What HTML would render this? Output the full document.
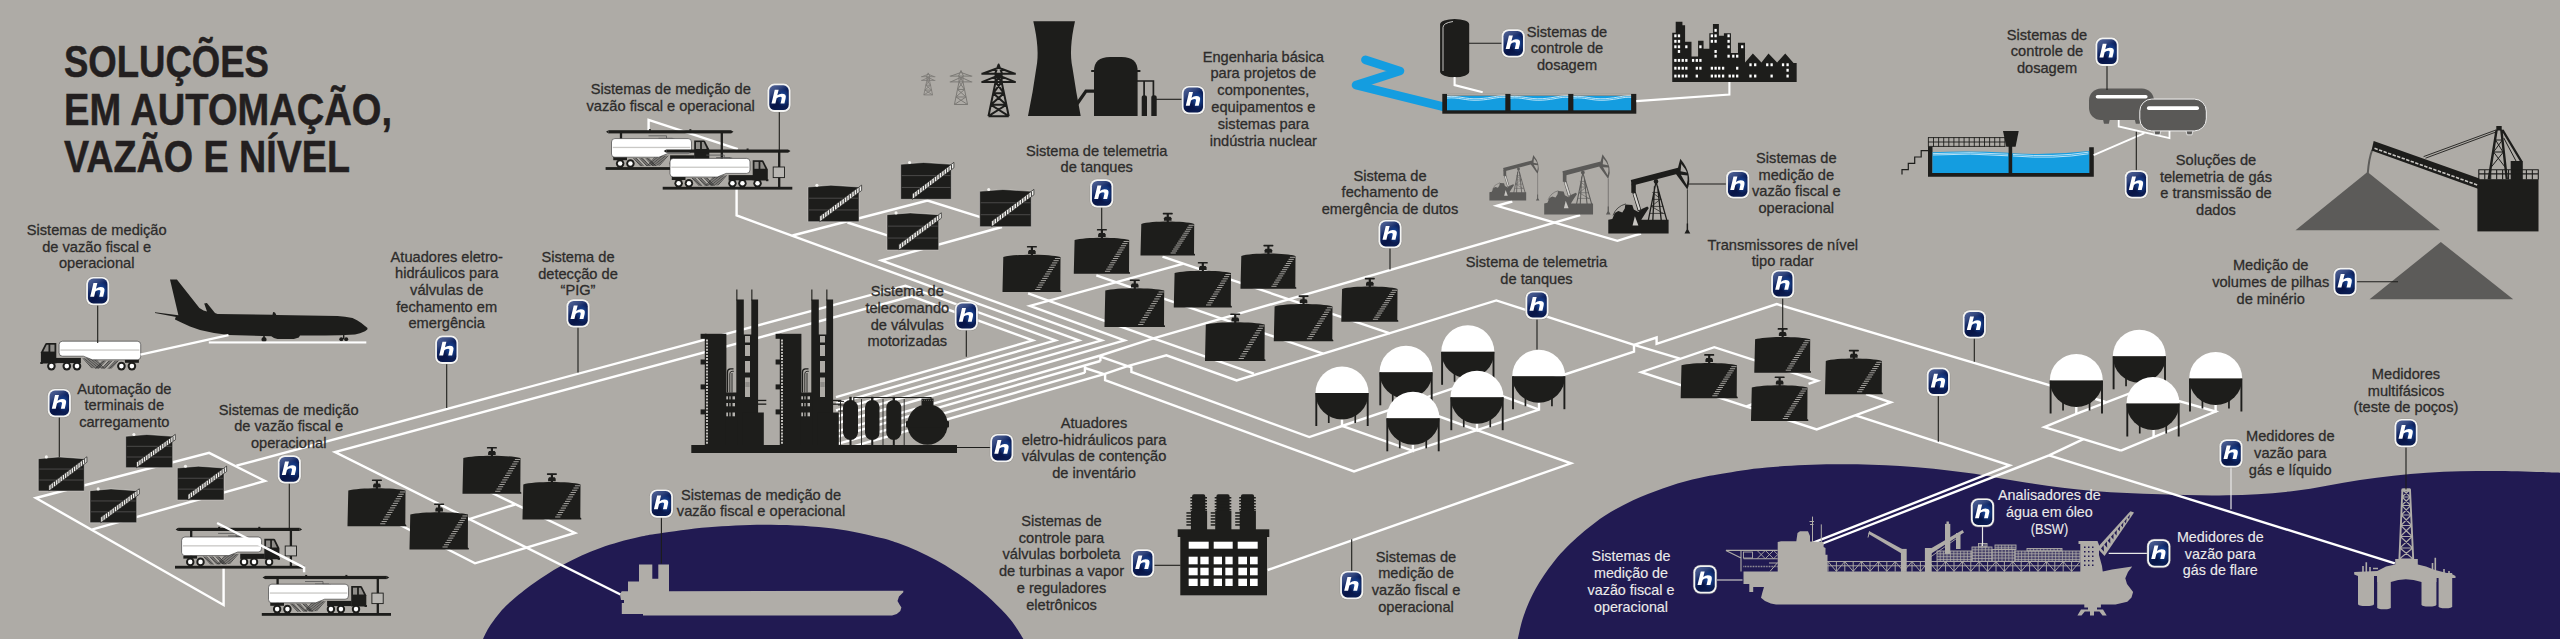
<!DOCTYPE html>
<html><head><meta charset="utf-8"><title>Soluções em automação, vazão e nível</title>
<style>
html,body{margin:0;padding:0;background:#aeaba6;}
body{width:2560px;height:639px;overflow:hidden;}
svg{display:block;font-family:"Liberation Sans",sans-serif;}
</style></head><body>
<svg width="2560" height="639" viewBox="0 0 2560 639">
<defs>
<linearGradient id="hg" x1="0" y1="0" x2="0.55" y2="1">
<stop offset="0" stop-color="#56679a"/><stop offset="0.3" stop-color="#34487f"/><stop offset="0.48" stop-color="#0f2563"/><stop offset="0.75" stop-color="#071446"/><stop offset="1" stop-color="#0a1c52"/>
</linearGradient>
<radialGradient id="hr" cx="0.72" cy="0.5" r="0.36">
<stop offset="0" stop-color="#2368cc" stop-opacity="0.8"/><stop offset="1" stop-color="#2368cc" stop-opacity="0"/>
</radialGradient>
<g id="hi">
<rect x="-0.9" y="-0.6" width="24.3" height="29.4" rx="7.6" fill="#8a8884" opacity="0.5"/>
<rect x="-0.3" y="-0.2" width="23.1" height="28.4" rx="7" fill="#f4f4f2"/>
<rect x="1.5" y="1.5" width="19.5" height="24.8" rx="5.4" fill="url(#hg)"/>
<rect x="1.5" y="1.5" width="19.5" height="24.8" rx="5.4" fill="url(#hr)"/>
<path transform="translate(11 12.8) scale(1.05) translate(-11 -12.8)" d="M4.1 19.3 L7.2 6.3 L10.9 6.3 L9.6 11.6 Q11.5 10 13.9 10 Q18.6 10 17.6 14.2 L16.4 19.3 L12.7 19.3 L13.8 14.6 Q14.3 12.9 12.6 12.9 Q10.2 12.9 9 14.4 L7.8 19.3 Z" fill="#ffffff"/>
</g>
</defs>
<rect x="0" y="0" width="2560" height="639" fill="#aeaba6"/>
<path d="M483 639 C483.93 637.17 486.12 632 488.6 628 C491.08 624 494.8 618.88 497.9 615 C501 611.12 502.53 609.05 507.2 604.7 C511.87 600.35 519.68 593.7 525.9 588.9 C532.12 584.1 538.3 579.93 544.5 575.9 C550.7 571.87 556.9 568.12 563.1 564.7 C569.3 561.28 575.48 558.2 581.7 555.4 C587.92 552.6 594.18 550.13 600.4 547.9 C606.62 545.67 612.4 543.85 619 542 C625.6 540.15 633.33 538.22 640 536.8 C646.67 535.38 647.53 535.08 659 533.5 C670.47 531.92 690.13 528.75 708.8 527.3 C727.47 525.85 750.27 524.6 771 524.8 C791.73 525 815.03 526.35 833.2 528.5 C851.37 530.65 869.1 535.23 880 537.7 C890.9 540.17 892.4 541.13 898.6 543.3 C904.8 545.47 910.98 547.92 917.2 550.7 C923.42 553.48 929.68 556.58 935.9 560 C942.12 563.42 948.3 567.17 954.5 571.2 C960.7 575.23 966.9 579.38 973.1 584.2 C979.3 589.02 985.48 594.2 991.7 600.1 C997.92 606 1005.12 613.12 1010.4 619.6 C1015.68 626.08 1021.23 635.77 1023.4 639  L1023.4 640 L483 640 Z" fill="#211a52"/>
<path d="M1517.8 639 C1518.78 635.12 1520.75 624.03 1523.7 615.7 C1526.65 607.37 1530.57 597.88 1535.5 589 C1540.43 580.12 1546.88 570.53 1553.3 562.4 C1559.72 554.27 1565.62 547.83 1574 540.2 C1582.38 532.57 1593.75 523.25 1603.6 516.6 C1613.45 509.95 1623.25 504.98 1633.1 500.3 C1642.95 495.62 1652.83 491.95 1662.7 488.5 C1672.57 485.05 1682.43 482.07 1692.3 479.6 C1702.17 477.13 1709.5 475.73 1721.9 473.7 C1734.3 471.67 1748.13 468.97 1766.7 467.4 C1785.27 465.83 1811.08 464.53 1833.3 464.3 C1855.52 464.07 1877.77 464.6 1900 466 C1922.23 467.4 1945.53 469.92 1966.7 472.7 C1987.87 475.48 2005.83 479.65 2027 482.7 C2048.17 485.75 2071.53 489.07 2093.7 491 C2115.87 492.93 2137.78 493.58 2160 494.3 C2182.22 495.02 2204.72 495.85 2227 495.3 C2249.28 494.75 2271.53 493.55 2293.7 491 C2315.87 488.45 2337.78 483.05 2360 480 C2382.22 476.95 2404.72 474.2 2427 472.7 C2449.28 471.2 2471.53 471 2493.7 471 C2515.87 471 2548.95 472.42 2560 472.7  L2561 640 L1516 640 Z" fill="#211a52"/>
<text x="64" y="77.2" font-size="44.6" font-weight="bold" fill="#231f20" stroke="#231f20" stroke-width="0.5" textLength="205" lengthAdjust="spacingAndGlyphs">SOLUÇÕES</text>
<text x="64" y="124.6" font-size="44.6" font-weight="bold" fill="#231f20" stroke="#231f20" stroke-width="0.5" textLength="328" lengthAdjust="spacingAndGlyphs">EM AUTOMAÇÃO,</text>
<text x="64" y="172.2" font-size="44.6" font-weight="bold" fill="#231f20" stroke="#231f20" stroke-width="0.5" textLength="286" lengthAdjust="spacingAndGlyphs">VAZÃO E NÍVEL</text>
<polyline points="223.6,567.7 223.6,605 35.8,498 209.1,452.9 265,481 91.7,529.6" fill="none" stroke="#ffffff" stroke-width="2.4" stroke-linejoin="miter"/>
<polyline points="236.4,465.7 905.4,285.7 1055.5,340.4 836,403.62" fill="none" stroke="#ffffff" stroke-width="2.4" stroke-linejoin="miter"/>
<polyline points="620.5,594.5 335,452.1 911.7,296.3 1032.8,340.4 836,397.08" fill="none" stroke="#ffffff" stroke-width="2.4" stroke-linejoin="miter"/>
<polyline points="385,517.3 402.5,526.3 475,563.3 575,533 490,492" fill="none" stroke="#ffffff" stroke-width="2.4" stroke-linejoin="miter"/>
<polyline points="452,524.5 470,518.8 515,504.5" fill="none" stroke="#ffffff" stroke-width="2.4" stroke-linejoin="miter"/>
<polyline points="648.6,131 648.6,119.9 737.8,149.1" fill="none" stroke="#ffffff" stroke-width="2.4" stroke-linejoin="miter"/>
<polyline points="736.6,188 736.6,215.5 1078.9,340.4 836,410.36" fill="none" stroke="#ffffff" stroke-width="2.4" stroke-linejoin="miter"/>
<polyline points="792.5,235.5 927.5,200.5 982,217.6" fill="none" stroke="#ffffff" stroke-width="2.4" stroke-linejoin="miter"/>
<polyline points="847.5,222.5 888,235.6" fill="none" stroke="#ffffff" stroke-width="2.4" stroke-linejoin="miter"/>
<polyline points="1002,227 881.3,260.5 1101.7,340.4 836,416.92" fill="none" stroke="#ffffff" stroke-width="2.4" stroke-linejoin="miter"/>
<polyline points="1182.8,263.8 1030,305.8 1124.5,340.4 836,423.49" fill="none" stroke="#ffffff" stroke-width="2.4" stroke-linejoin="miter"/>
<polyline points="1028.1,293.3 1153.4,338.3 1253.9,373.7" fill="none" stroke="#ffffff" stroke-width="2.4" stroke-linejoin="miter"/>
<polyline points="1096.3,275.4 1323.1,353.6" fill="none" stroke="#ffffff" stroke-width="2.4" stroke-linejoin="miter"/>
<polyline points="1162.5,256.7 1390,333.3" fill="none" stroke="#ffffff" stroke-width="2.4" stroke-linejoin="miter"/>
<polyline points="1580.2,215.2 1153.4,338.3 1100.4,355.5 836,431.65" fill="none" stroke="#ffffff" stroke-width="2.4" stroke-linejoin="miter"/>
<polyline points="1100.4,355.2 1100.4,361.2" fill="none" stroke="#ffffff" stroke-width="2.4" stroke-linejoin="miter"/>
<polyline points="1100.4,361 836,437.15" fill="none" stroke="#ffffff" stroke-width="2.4" stroke-linejoin="miter"/>
<polyline points="1084.9,366.2 1084.9,372.9" fill="none" stroke="#ffffff" stroke-width="2.4" stroke-linejoin="miter"/>
<polyline points="1084.9,372.7 836,444.38" fill="none" stroke="#ffffff" stroke-width="2.4" stroke-linejoin="miter"/>
<polyline points="836,451.31 1104.1,374.1 1127.6,366.2 1166.4,355.3 1236.6,380.4 1496.3,300.4 1634,344.8 1680,358.6" fill="none" stroke="#ffffff" stroke-width="2.4" stroke-linejoin="miter"/>
<polyline points="1100.4,356.7 1127.6,366.2 1131.4,367.4 1131.4,371.8 1309.3,437.1 1342,426 1406,404.3 1467.8,383.4" fill="none" stroke="#ffffff" stroke-width="2.4" stroke-linejoin="miter"/>
<polyline points="1084.9,368 1104.1,374.1 1105.1,374.4 1105.1,380.2 1354,471.5 1412.9,450.9 1477,430.2 1539,409.6 1539,402" fill="none" stroke="#ffffff" stroke-width="2.4" stroke-linejoin="miter"/>
<polyline points="1342,419 1342,426 1412.9,450.9 1412.9,444" fill="none" stroke="#ffffff" stroke-width="2.4" stroke-linejoin="miter"/>
<polyline points="1406,398 1406,404.3 1477,430.2 1477,423" fill="none" stroke="#ffffff" stroke-width="2.4" stroke-linejoin="miter"/>
<polyline points="1467.8,377.5 1467.8,383.4 1539,409.6" fill="none" stroke="#ffffff" stroke-width="2.4" stroke-linejoin="miter"/>
<polyline points="1477,430.2 1571,463.3 1267.7,570" fill="none" stroke="#ffffff" stroke-width="2.4" stroke-linejoin="miter"/>
<polyline points="1512.3,201.5 1496.9,205.8 1617.4,240.8 1641,233.5" fill="none" stroke="#ffffff" stroke-width="2.4" stroke-linejoin="miter"/>
<polyline points="1634,344.5 1634,351.6 1545,381" fill="none" stroke="#ffffff" stroke-width="2.4" stroke-linejoin="miter"/>
<polyline points="1634,344.8 1656.6,337.5 1656.6,343.8 1776.7,304 2105.5,402" fill="none" stroke="#ffffff" stroke-width="2.4" stroke-linejoin="miter"/>
<polyline points="1808.5,383.9 1817.6,380.8 1714.3,347.2 1641.2,372.2 1816.7,429.5 1890.8,402.3 1866,394.2" fill="none" stroke="#ffffff" stroke-width="2.4" stroke-linejoin="miter"/>
<polyline points="1746.5,406.3 1753,404" fill="none" stroke="#ffffff" stroke-width="2.4" stroke-linejoin="miter"/>
<polyline points="1855.5,415.4 2009.7,465.4 1813.3,542.7" fill="none" stroke="#ffffff" stroke-width="2.4" stroke-linejoin="miter"/>
<polyline points="2120.9,450.6 2044.3,427.1 2076.3,413.8 2139.3,389.7 2215.6,411.5 2120.9,450.6" fill="none" stroke="#ffffff" stroke-width="2.4" stroke-linejoin="miter"/>
<polyline points="2076.3,406.5 2076.3,414" fill="none" stroke="#ffffff" stroke-width="2.4" stroke-linejoin="miter"/>
<polyline points="2139.3,382 2139.3,390" fill="none" stroke="#ffffff" stroke-width="2.4" stroke-linejoin="miter"/>
<polyline points="2215.6,404.5 2215.6,412.5" fill="none" stroke="#ffffff" stroke-width="2.4" stroke-linejoin="miter"/>
<polyline points="2153.6,429.5 2153.6,437" fill="none" stroke="#ffffff" stroke-width="2.4" stroke-linejoin="miter"/>
<polyline points="2083.4,439.2 2049,455.3 1815,546.5" fill="none" stroke="#ffffff" stroke-width="2.4" stroke-linejoin="miter"/>
<polyline points="2049,455.3 2394.8,563.3" fill="none" stroke="#ffffff" stroke-width="2.4" stroke-linejoin="miter"/>
<g>
<path d="M125.7 436.3 L146.85 434.5 L172.7 436.3 L172.7 467.7 L125.7 467.7 Z" fill="#1d1d1b" stroke="#d8d6d2" stroke-width="0.5"/>
<line x1="126.7" y1="446.32" x2="171.7" y2="446.32" stroke="#5e5d5b" stroke-width="0.7"/>
<line x1="126.7" y1="457.01" x2="171.7" y2="457.01" stroke="#5e5d5b" stroke-width="0.7"/>
<polygon points="136.51,462.3 175.3,434.4 175.3,439.8 136.51,467.7" fill="#f2f1ee" stroke="#1d1d1b" stroke-width="0.7"/>
<path d="M138.79 461.16 V465.56 M141.07 459.52 V463.92 M143.36 457.88 V462.28 M145.64 456.24 V460.64 M147.92 454.59 V458.99 M150.2 452.95 V457.35 M152.48 451.31 V455.71 M154.76 449.67 V454.07 M157.05 448.03 V452.43 M159.33 446.39 V450.79 M161.61 444.75 V449.15 M163.89 443.11 V447.51 M166.17 441.46 V445.86 M168.45 439.82 V444.22 M170.74 438.18 V442.58 M173.02 436.54 V440.94" stroke="#1d1d1b" stroke-width="0.85" fill="none"/>
<circle cx="133.93" cy="434.5" r="1.55" fill="#f6f5f2"/>
</g>
<g>
<path d="M38.3 458.7 L59 456.9 L84.3 458.7 L84.3 491 L38.3 491 Z" fill="#1d1d1b" stroke="#d8d6d2" stroke-width="0.5"/>
<line x1="39.3" y1="469.05" x2="83.3" y2="469.05" stroke="#5e5d5b" stroke-width="0.7"/>
<line x1="39.3" y1="480.02" x2="83.3" y2="480.02" stroke="#5e5d5b" stroke-width="0.7"/>
<polygon points="48.88,485.6 86.9,456.8 86.9,462.2 48.88,491" fill="#f2f1ee" stroke="#1d1d1b" stroke-width="0.7"/>
<path d="M51.12 484.41 V488.81 M53.35 482.71 V487.11 M55.59 481.02 V485.42 M57.83 479.32 V483.72 M60.06 477.63 V482.03 M62.3 475.94 V480.34 M64.54 474.24 V478.64 M66.77 472.55 V476.95 M69.01 470.85 V475.25 M71.24 469.16 V473.56 M73.48 467.46 V471.86 M75.72 465.77 V470.17 M77.95 464.08 V468.48 M80.19 462.38 V466.78 M82.43 460.69 V465.09 M84.66 458.99 V463.39" stroke="#1d1d1b" stroke-width="0.85" fill="none"/>
<circle cx="46.35" cy="456.9" r="1.55" fill="#f6f5f2"/>
</g>
<g>
<path d="M177.3 468 L198.31 466.2 L224 468 L224 500 L177.3 500 Z" fill="#1d1d1b" stroke="#d8d6d2" stroke-width="0.5"/>
<line x1="178.3" y1="478.24" x2="223" y2="478.24" stroke="#5e5d5b" stroke-width="0.7"/>
<line x1="178.3" y1="489.12" x2="223" y2="489.12" stroke="#5e5d5b" stroke-width="0.7"/>
<polygon points="188.04,494.6 226.6,466.1 226.6,471.5 188.04,500" fill="#f2f1ee" stroke="#1d1d1b" stroke-width="0.7"/>
<path d="M190.31 493.42 V497.82 M192.58 491.75 V496.15 M194.85 490.07 V494.47 M197.11 488.39 V492.79 M199.38 486.72 V491.12 M201.65 485.04 V489.44 M203.92 483.36 V487.76 M206.19 481.69 V486.09 M208.45 480.01 V484.41 M210.72 478.34 V482.74 M212.99 476.66 V481.06 M215.26 474.98 V479.38 M217.53 473.31 V477.71 M219.8 471.63 V476.03 M222.06 469.95 V474.35 M224.33 468.28 V472.68" stroke="#1d1d1b" stroke-width="0.85" fill="none"/>
<circle cx="185.47" cy="466.2" r="1.55" fill="#f6f5f2"/>
</g>
<g>
<path d="M90 490.7 L111.02 488.9 L136.7 490.7 L136.7 522.7 L90 522.7 Z" fill="#1d1d1b" stroke="#d8d6d2" stroke-width="0.5"/>
<line x1="91" y1="500.94" x2="135.7" y2="500.94" stroke="#5e5d5b" stroke-width="0.7"/>
<line x1="91" y1="511.82" x2="135.7" y2="511.82" stroke="#5e5d5b" stroke-width="0.7"/>
<polygon points="100.74,517.3 139.3,488.8 139.3,494.2 100.74,522.7" fill="#f2f1ee" stroke="#1d1d1b" stroke-width="0.7"/>
<path d="M103.01 516.12 V520.52 M105.28 514.45 V518.85 M107.55 512.77 V517.17 M109.81 511.09 V515.49 M112.08 509.42 V513.82 M114.35 507.74 V512.14 M116.62 506.06 V510.46 M118.89 504.39 V508.79 M121.15 502.71 V507.11 M123.42 501.04 V505.44 M125.69 499.36 V503.76 M127.96 497.68 V502.08 M130.23 496.01 V500.41 M132.5 494.33 V498.73 M134.76 492.65 V497.05 M137.03 490.98 V495.38" stroke="#1d1d1b" stroke-width="0.85" fill="none"/>
<circle cx="98.17" cy="488.9" r="1.55" fill="#f6f5f2"/>
</g>
<g>
<path d="M900.7 164.3 L923.47 162.5 L951.3 164.3 L951.3 199.3 L900.7 199.3 Z" fill="#1d1d1b" stroke="#d8d6d2" stroke-width="0.5"/>
<line x1="901.7" y1="175.62" x2="950.3" y2="175.62" stroke="#5e5d5b" stroke-width="0.7"/>
<line x1="901.7" y1="187.46" x2="950.3" y2="187.46" stroke="#5e5d5b" stroke-width="0.7"/>
<polygon points="912.34,193.9 953.9,162.4 953.9,167.8 912.34,199.3" fill="#f2f1ee" stroke="#1d1d1b" stroke-width="0.7"/>
<path d="M914.78 192.55 V196.95 M917.23 190.69 V195.09 M919.67 188.84 V193.24 M922.12 186.99 V191.39 M924.56 185.14 V189.54 M927.01 183.28 V187.68 M929.45 181.43 V185.83 M931.9 179.58 V183.98 M934.34 177.72 V182.12 M936.79 175.87 V180.27 M939.23 174.02 V178.42 M941.68 172.16 V176.56 M944.12 170.31 V174.71 M946.57 168.46 V172.86 M949.01 166.61 V171.01 M951.46 164.75 V169.15" stroke="#1d1d1b" stroke-width="0.85" fill="none"/>
<circle cx="909.56" cy="162.5" r="1.55" fill="#f6f5f2"/>
</g>
<g>
<path d="M808 187 L830.95 185.2 L859 187 L859 221.7 L808 221.7 Z" fill="#1d1d1b" stroke="#d8d6d2" stroke-width="0.5"/>
<line x1="809" y1="198.21" x2="858" y2="198.21" stroke="#5e5d5b" stroke-width="0.7"/>
<line x1="809" y1="209.96" x2="858" y2="209.96" stroke="#5e5d5b" stroke-width="0.7"/>
<polygon points="819.73,216.3 861.6,185.1 861.6,190.5 819.73,221.7" fill="#f2f1ee" stroke="#1d1d1b" stroke-width="0.7"/>
<path d="M822.19 214.96 V219.36 M824.66 213.13 V217.53 M827.12 211.29 V215.69 M829.58 209.46 V213.86 M832.04 207.62 V212.02 M834.51 205.79 V210.19 M836.97 203.95 V208.35 M839.43 202.12 V206.52 M841.9 200.28 V204.68 M844.36 198.45 V202.85 M846.82 196.61 V201.01 M849.29 194.78 V199.18 M851.75 192.94 V197.34 M854.21 191.11 V195.51 M856.67 189.27 V193.67 M859.14 187.44 V191.84" stroke="#1d1d1b" stroke-width="0.85" fill="none"/>
<circle cx="816.92" cy="185.2" r="1.55" fill="#f6f5f2"/>
</g>
<g>
<path d="M979.7 191.3 L1002.92 189.5 L1031.3 191.3 L1031.3 226.7 L979.7 226.7 Z" fill="#1d1d1b" stroke="#d8d6d2" stroke-width="0.5"/>
<line x1="980.7" y1="202.76" x2="1030.3" y2="202.76" stroke="#5e5d5b" stroke-width="0.7"/>
<line x1="980.7" y1="214.73" x2="1030.3" y2="214.73" stroke="#5e5d5b" stroke-width="0.7"/>
<polygon points="991.57,221.3 1033.9,189.4 1033.9,194.8 991.57,226.7" fill="#f2f1ee" stroke="#1d1d1b" stroke-width="0.7"/>
<path d="M994.06 219.92 V224.32 M996.55 218.05 V222.45 M999.04 216.17 V220.57 M1001.53 214.29 V218.69 M1004.02 212.42 V216.82 M1006.51 210.54 V214.94 M1009 208.66 V213.06 M1011.49 206.79 V211.19 M1013.98 204.91 V209.31 M1016.47 203.04 V207.44 M1018.96 201.16 V205.56 M1021.45 199.28 V203.68 M1023.94 197.41 V201.81 M1026.43 195.53 V199.93 M1028.92 193.65 V198.05 M1031.41 191.78 V196.18" stroke="#1d1d1b" stroke-width="0.85" fill="none"/>
<circle cx="988.73" cy="189.5" r="1.55" fill="#f6f5f2"/>
</g>
<g>
<path d="M887 214.7 L910.26 212.9 L938.7 214.7 L938.7 250 L887 250 Z" fill="#1d1d1b" stroke="#d8d6d2" stroke-width="0.5"/>
<line x1="888" y1="226.13" x2="937.7" y2="226.13" stroke="#5e5d5b" stroke-width="0.7"/>
<line x1="888" y1="238.06" x2="937.7" y2="238.06" stroke="#5e5d5b" stroke-width="0.7"/>
<polygon points="898.89,244.6 941.3,212.8 941.3,218.2 898.89,250" fill="#f2f1ee" stroke="#1d1d1b" stroke-width="0.7"/>
<path d="M901.39 243.23 V247.63 M903.88 241.36 V245.76 M906.37 239.49 V243.89 M908.87 237.62 V242.02 M911.36 235.75 V240.15 M913.86 233.88 V238.28 M916.35 232.01 V236.41 M918.85 230.14 V234.54 M921.34 228.26 V232.66 M923.84 226.39 V230.79 M926.33 224.52 V228.92 M928.83 222.65 V227.05 M931.32 220.78 V225.18 M933.82 218.91 V223.31 M936.31 217.04 V221.44 M938.81 215.17 V219.57" stroke="#1d1d1b" stroke-width="0.85" fill="none"/>
<circle cx="896.05" cy="212.9" r="1.55" fill="#f6f5f2"/>
</g>
<g>
<path d="M463.3 458.1 C474.26 454.9 509.54 454.9 520.5 458.1 L520.3 491.8 L521.3 492.6 L521.3 493.8 L462.5 493.8 L462.5 492.6 Z" fill="#1d1d1b"/>
<rect x="490.8" y="447.5" width="2.2" height="9" fill="#1d1d1b"/>
<path d="M489.1 450.9 h5.6 l1 1.6 v2.4 h-7.6 v-2.4 Z" fill="#1d1d1b"/>
<rect x="486.9" y="446.9" width="10" height="1.7" rx="0.6" fill="#1d1d1b"/>
<rect x="514.9" y="459" width="5.2" height="0.95" fill="#a9a7a3"/>
<rect x="513.49" y="461.27" width="5.2" height="0.95" fill="#a9a7a3"/>
<rect x="512.08" y="463.54" width="5.2" height="0.95" fill="#a9a7a3"/>
<rect x="510.67" y="465.81" width="5.2" height="0.95" fill="#a9a7a3"/>
<rect x="509.27" y="468.09" width="5.2" height="0.95" fill="#a9a7a3"/>
<rect x="507.86" y="470.36" width="5.2" height="0.95" fill="#a9a7a3"/>
<rect x="506.45" y="472.63" width="5.2" height="0.95" fill="#a9a7a3"/>
<rect x="505.04" y="474.9" width="5.2" height="0.95" fill="#a9a7a3"/>
<rect x="503.63" y="477.17" width="5.2" height="0.95" fill="#a9a7a3"/>
<rect x="502.22" y="479.44" width="5.2" height="0.95" fill="#a9a7a3"/>
<rect x="500.81" y="481.71" width="5.2" height="0.95" fill="#a9a7a3"/>
<rect x="499.41" y="483.99" width="5.2" height="0.95" fill="#a9a7a3"/>
<rect x="498" y="486.26" width="5.2" height="0.95" fill="#a9a7a3"/>
<rect x="496.59" y="488.53" width="5.2" height="0.95" fill="#a9a7a3"/>
<rect x="495.18" y="490.8" width="5.2" height="0.95" fill="#a9a7a3"/>
</g>
<g>
<path d="M348.3 490.6 C359.26 487.4 394.54 487.4 405.5 490.6 L405.3 524.3 L406.3 525.1 L406.3 526.3 L347.5 526.3 L347.5 525.1 Z" fill="#1d1d1b"/>
<rect x="375.8" y="480" width="2.2" height="9" fill="#1d1d1b"/>
<path d="M374.1 483.4 h5.6 l1 1.6 v2.4 h-7.6 v-2.4 Z" fill="#1d1d1b"/>
<rect x="371.9" y="479.4" width="10" height="1.7" rx="0.6" fill="#1d1d1b"/>
<rect x="399.9" y="491.5" width="5.2" height="0.95" fill="#a9a7a3"/>
<rect x="398.49" y="493.77" width="5.2" height="0.95" fill="#a9a7a3"/>
<rect x="397.08" y="496.04" width="5.2" height="0.95" fill="#a9a7a3"/>
<rect x="395.67" y="498.31" width="5.2" height="0.95" fill="#a9a7a3"/>
<rect x="394.27" y="500.59" width="5.2" height="0.95" fill="#a9a7a3"/>
<rect x="392.86" y="502.86" width="5.2" height="0.95" fill="#a9a7a3"/>
<rect x="391.45" y="505.13" width="5.2" height="0.95" fill="#a9a7a3"/>
<rect x="390.04" y="507.4" width="5.2" height="0.95" fill="#a9a7a3"/>
<rect x="388.63" y="509.67" width="5.2" height="0.95" fill="#a9a7a3"/>
<rect x="387.22" y="511.94" width="5.2" height="0.95" fill="#a9a7a3"/>
<rect x="385.81" y="514.21" width="5.2" height="0.95" fill="#a9a7a3"/>
<rect x="384.41" y="516.49" width="5.2" height="0.95" fill="#a9a7a3"/>
<rect x="383" y="518.76" width="5.2" height="0.95" fill="#a9a7a3"/>
<rect x="381.59" y="521.03" width="5.2" height="0.95" fill="#a9a7a3"/>
<rect x="380.18" y="523.3" width="5.2" height="0.95" fill="#a9a7a3"/>
</g>
<g>
<path d="M523.3 484.4 C534.26 481.2 569.54 481.2 580.5 484.4 L580.3 517.5 L581.3 518.3 L581.3 519.5 L522.5 519.5 L522.5 518.3 Z" fill="#1d1d1b"/>
<rect x="550.8" y="473.8" width="2.2" height="9" fill="#1d1d1b"/>
<path d="M549.1 477.2 h5.6 l1 1.6 v2.4 h-7.6 v-2.4 Z" fill="#1d1d1b"/>
<rect x="546.9" y="473.2" width="10" height="1.7" rx="0.6" fill="#1d1d1b"/>
<rect x="574.9" y="485.3" width="5.2" height="0.95" fill="#a9a7a3"/>
<rect x="573.49" y="487.53" width="5.2" height="0.95" fill="#a9a7a3"/>
<rect x="572.08" y="489.76" width="5.2" height="0.95" fill="#a9a7a3"/>
<rect x="570.67" y="491.99" width="5.2" height="0.95" fill="#a9a7a3"/>
<rect x="569.27" y="494.21" width="5.2" height="0.95" fill="#a9a7a3"/>
<rect x="567.86" y="496.44" width="5.2" height="0.95" fill="#a9a7a3"/>
<rect x="566.45" y="498.67" width="5.2" height="0.95" fill="#a9a7a3"/>
<rect x="565.04" y="500.9" width="5.2" height="0.95" fill="#a9a7a3"/>
<rect x="563.63" y="503.13" width="5.2" height="0.95" fill="#a9a7a3"/>
<rect x="562.22" y="505.36" width="5.2" height="0.95" fill="#a9a7a3"/>
<rect x="560.81" y="507.59" width="5.2" height="0.95" fill="#a9a7a3"/>
<rect x="559.41" y="509.81" width="5.2" height="0.95" fill="#a9a7a3"/>
<rect x="558" y="512.04" width="5.2" height="0.95" fill="#a9a7a3"/>
<rect x="556.59" y="514.27" width="5.2" height="0.95" fill="#a9a7a3"/>
<rect x="555.18" y="516.5" width="5.2" height="0.95" fill="#a9a7a3"/>
</g>
<g>
<path d="M410.3 514.6 C421.36 511.4 456.94 511.4 468 514.6 L467.8 547.5 L468.8 548.3 L468.8 549.5 L409.5 549.5 L409.5 548.3 Z" fill="#1d1d1b"/>
<rect x="438.05" y="504" width="2.2" height="9" fill="#1d1d1b"/>
<path d="M436.35 507.4 h5.6 l1 1.6 v2.4 h-7.6 v-2.4 Z" fill="#1d1d1b"/>
<rect x="434.15" y="503.4" width="10" height="1.7" rx="0.6" fill="#1d1d1b"/>
<rect x="462.4" y="515.5" width="5.2" height="0.95" fill="#a9a7a3"/>
<rect x="460.98" y="517.71" width="5.2" height="0.95" fill="#a9a7a3"/>
<rect x="459.55" y="519.93" width="5.2" height="0.95" fill="#a9a7a3"/>
<rect x="458.13" y="522.14" width="5.2" height="0.95" fill="#a9a7a3"/>
<rect x="456.71" y="524.36" width="5.2" height="0.95" fill="#a9a7a3"/>
<rect x="455.29" y="526.57" width="5.2" height="0.95" fill="#a9a7a3"/>
<rect x="453.86" y="528.79" width="5.2" height="0.95" fill="#a9a7a3"/>
<rect x="452.44" y="531" width="5.2" height="0.95" fill="#a9a7a3"/>
<rect x="451.02" y="533.21" width="5.2" height="0.95" fill="#a9a7a3"/>
<rect x="449.59" y="535.43" width="5.2" height="0.95" fill="#a9a7a3"/>
<rect x="448.17" y="537.64" width="5.2" height="0.95" fill="#a9a7a3"/>
<rect x="446.75" y="539.86" width="5.2" height="0.95" fill="#a9a7a3"/>
<rect x="445.33" y="542.07" width="5.2" height="0.95" fill="#a9a7a3"/>
<rect x="443.9" y="544.29" width="5.2" height="0.95" fill="#a9a7a3"/>
<rect x="442.48" y="546.5" width="5.2" height="0.95" fill="#a9a7a3"/>
</g>
<g>
<path d="M1141.3 223.9 C1151.4 220.7 1184.1 220.7 1194.2 223.9 L1194 253.5 L1195 254.3 L1195 255.5 L1140.5 255.5 L1140.5 254.3 Z" fill="#1d1d1b"/>
<rect x="1166.65" y="213.3" width="2.2" height="9" fill="#1d1d1b"/>
<path d="M1164.95 216.7 h5.6 l1 1.6 v2.4 h-7.6 v-2.4 Z" fill="#1d1d1b"/>
<rect x="1162.75" y="212.7" width="10" height="1.7" rx="0.6" fill="#1d1d1b"/>
<rect x="1188.6" y="224.8" width="5.2" height="0.95" fill="#a9a7a3"/>
<rect x="1187.31" y="226.78" width="5.2" height="0.95" fill="#a9a7a3"/>
<rect x="1186.03" y="228.76" width="5.2" height="0.95" fill="#a9a7a3"/>
<rect x="1184.74" y="230.74" width="5.2" height="0.95" fill="#a9a7a3"/>
<rect x="1183.46" y="232.71" width="5.2" height="0.95" fill="#a9a7a3"/>
<rect x="1182.17" y="234.69" width="5.2" height="0.95" fill="#a9a7a3"/>
<rect x="1180.89" y="236.67" width="5.2" height="0.95" fill="#a9a7a3"/>
<rect x="1179.6" y="238.65" width="5.2" height="0.95" fill="#a9a7a3"/>
<rect x="1178.31" y="240.63" width="5.2" height="0.95" fill="#a9a7a3"/>
<rect x="1177.03" y="242.61" width="5.2" height="0.95" fill="#a9a7a3"/>
<rect x="1175.74" y="244.59" width="5.2" height="0.95" fill="#a9a7a3"/>
<rect x="1174.46" y="246.56" width="5.2" height="0.95" fill="#a9a7a3"/>
<rect x="1173.17" y="248.54" width="5.2" height="0.95" fill="#a9a7a3"/>
<rect x="1171.89" y="250.52" width="5.2" height="0.95" fill="#a9a7a3"/>
<rect x="1170.6" y="252.5" width="5.2" height="0.95" fill="#a9a7a3"/>
</g>
<g>
<path d="M1074.6 240.1 C1085.04 236.9 1118.76 236.9 1129.2 240.1 L1129 271.8 L1130 272.6 L1130 273.8 L1073.8 273.8 L1073.8 272.6 Z" fill="#1d1d1b"/>
<rect x="1100.8" y="229.5" width="2.2" height="9" fill="#1d1d1b"/>
<path d="M1099.1 232.9 h5.6 l1 1.6 v2.4 h-7.6 v-2.4 Z" fill="#1d1d1b"/>
<rect x="1096.9" y="228.9" width="10" height="1.7" rx="0.6" fill="#1d1d1b"/>
<rect x="1123.6" y="241" width="5.2" height="0.95" fill="#a9a7a3"/>
<rect x="1122.27" y="243.13" width="5.2" height="0.95" fill="#a9a7a3"/>
<rect x="1120.93" y="245.26" width="5.2" height="0.95" fill="#a9a7a3"/>
<rect x="1119.6" y="247.39" width="5.2" height="0.95" fill="#a9a7a3"/>
<rect x="1118.26" y="249.51" width="5.2" height="0.95" fill="#a9a7a3"/>
<rect x="1116.93" y="251.64" width="5.2" height="0.95" fill="#a9a7a3"/>
<rect x="1115.59" y="253.77" width="5.2" height="0.95" fill="#a9a7a3"/>
<rect x="1114.26" y="255.9" width="5.2" height="0.95" fill="#a9a7a3"/>
<rect x="1112.93" y="258.03" width="5.2" height="0.95" fill="#a9a7a3"/>
<rect x="1111.59" y="260.16" width="5.2" height="0.95" fill="#a9a7a3"/>
<rect x="1110.26" y="262.29" width="5.2" height="0.95" fill="#a9a7a3"/>
<rect x="1108.92" y="264.41" width="5.2" height="0.95" fill="#a9a7a3"/>
<rect x="1107.59" y="266.54" width="5.2" height="0.95" fill="#a9a7a3"/>
<rect x="1106.25" y="268.67" width="5.2" height="0.95" fill="#a9a7a3"/>
<rect x="1104.92" y="270.8" width="5.2" height="0.95" fill="#a9a7a3"/>
</g>
<g>
<path d="M1003.3 257.1 C1014.26 253.9 1049.54 253.9 1060.5 257.1 L1060.3 290 L1061.3 290.8 L1061.3 292 L1002.5 292 L1002.5 290.8 Z" fill="#1d1d1b"/>
<rect x="1030.8" y="246.5" width="2.2" height="9" fill="#1d1d1b"/>
<path d="M1029.1 249.9 h5.6 l1 1.6 v2.4 h-7.6 v-2.4 Z" fill="#1d1d1b"/>
<rect x="1026.9" y="245.9" width="10" height="1.7" rx="0.6" fill="#1d1d1b"/>
<rect x="1054.9" y="258" width="5.2" height="0.95" fill="#a9a7a3"/>
<rect x="1053.49" y="260.21" width="5.2" height="0.95" fill="#a9a7a3"/>
<rect x="1052.08" y="262.43" width="5.2" height="0.95" fill="#a9a7a3"/>
<rect x="1050.67" y="264.64" width="5.2" height="0.95" fill="#a9a7a3"/>
<rect x="1049.27" y="266.86" width="5.2" height="0.95" fill="#a9a7a3"/>
<rect x="1047.86" y="269.07" width="5.2" height="0.95" fill="#a9a7a3"/>
<rect x="1046.45" y="271.29" width="5.2" height="0.95" fill="#a9a7a3"/>
<rect x="1045.04" y="273.5" width="5.2" height="0.95" fill="#a9a7a3"/>
<rect x="1043.63" y="275.71" width="5.2" height="0.95" fill="#a9a7a3"/>
<rect x="1042.22" y="277.93" width="5.2" height="0.95" fill="#a9a7a3"/>
<rect x="1040.81" y="280.14" width="5.2" height="0.95" fill="#a9a7a3"/>
<rect x="1039.41" y="282.36" width="5.2" height="0.95" fill="#a9a7a3"/>
<rect x="1038" y="284.57" width="5.2" height="0.95" fill="#a9a7a3"/>
<rect x="1036.59" y="286.79" width="5.2" height="0.95" fill="#a9a7a3"/>
<rect x="1035.18" y="289" width="5.2" height="0.95" fill="#a9a7a3"/>
</g>
<g>
<path d="M1241.3 255.9 C1251.66 252.7 1285.14 252.7 1295.5 255.9 L1295.3 286.8 L1296.3 287.6 L1296.3 288.8 L1240.5 288.8 L1240.5 287.6 Z" fill="#1d1d1b"/>
<rect x="1267.3" y="245.3" width="2.2" height="9" fill="#1d1d1b"/>
<path d="M1265.6 248.7 h5.6 l1 1.6 v2.4 h-7.6 v-2.4 Z" fill="#1d1d1b"/>
<rect x="1263.4" y="244.7" width="10" height="1.7" rx="0.6" fill="#1d1d1b"/>
<rect x="1289.9" y="256.8" width="5.2" height="0.95" fill="#a9a7a3"/>
<rect x="1288.58" y="258.87" width="5.2" height="0.95" fill="#a9a7a3"/>
<rect x="1287.25" y="260.94" width="5.2" height="0.95" fill="#a9a7a3"/>
<rect x="1285.93" y="263.01" width="5.2" height="0.95" fill="#a9a7a3"/>
<rect x="1284.61" y="265.09" width="5.2" height="0.95" fill="#a9a7a3"/>
<rect x="1283.29" y="267.16" width="5.2" height="0.95" fill="#a9a7a3"/>
<rect x="1281.96" y="269.23" width="5.2" height="0.95" fill="#a9a7a3"/>
<rect x="1280.64" y="271.3" width="5.2" height="0.95" fill="#a9a7a3"/>
<rect x="1279.32" y="273.37" width="5.2" height="0.95" fill="#a9a7a3"/>
<rect x="1277.99" y="275.44" width="5.2" height="0.95" fill="#a9a7a3"/>
<rect x="1276.67" y="277.51" width="5.2" height="0.95" fill="#a9a7a3"/>
<rect x="1275.35" y="279.59" width="5.2" height="0.95" fill="#a9a7a3"/>
<rect x="1274.03" y="281.66" width="5.2" height="0.95" fill="#a9a7a3"/>
<rect x="1272.7" y="283.73" width="5.2" height="0.95" fill="#a9a7a3"/>
<rect x="1271.38" y="285.8" width="5.2" height="0.95" fill="#a9a7a3"/>
</g>
<g>
<path d="M1174.6 273.1 C1185.4 269.9 1220.2 269.9 1231 273.1 L1230.8 305.5 L1231.8 306.3 L1231.8 307.5 L1173.8 307.5 L1173.8 306.3 Z" fill="#1d1d1b"/>
<rect x="1201.7" y="262.5" width="2.2" height="9" fill="#1d1d1b"/>
<path d="M1200 265.9 h5.6 l1 1.6 v2.4 h-7.6 v-2.4 Z" fill="#1d1d1b"/>
<rect x="1197.8" y="261.9" width="10" height="1.7" rx="0.6" fill="#1d1d1b"/>
<rect x="1225.4" y="274" width="5.2" height="0.95" fill="#a9a7a3"/>
<rect x="1224.01" y="276.18" width="5.2" height="0.95" fill="#a9a7a3"/>
<rect x="1222.63" y="278.36" width="5.2" height="0.95" fill="#a9a7a3"/>
<rect x="1221.24" y="280.54" width="5.2" height="0.95" fill="#a9a7a3"/>
<rect x="1219.86" y="282.71" width="5.2" height="0.95" fill="#a9a7a3"/>
<rect x="1218.47" y="284.89" width="5.2" height="0.95" fill="#a9a7a3"/>
<rect x="1217.09" y="287.07" width="5.2" height="0.95" fill="#a9a7a3"/>
<rect x="1215.7" y="289.25" width="5.2" height="0.95" fill="#a9a7a3"/>
<rect x="1214.31" y="291.43" width="5.2" height="0.95" fill="#a9a7a3"/>
<rect x="1212.93" y="293.61" width="5.2" height="0.95" fill="#a9a7a3"/>
<rect x="1211.54" y="295.79" width="5.2" height="0.95" fill="#a9a7a3"/>
<rect x="1210.16" y="297.96" width="5.2" height="0.95" fill="#a9a7a3"/>
<rect x="1208.77" y="300.14" width="5.2" height="0.95" fill="#a9a7a3"/>
<rect x="1207.39" y="302.32" width="5.2" height="0.95" fill="#a9a7a3"/>
<rect x="1206" y="304.5" width="5.2" height="0.95" fill="#a9a7a3"/>
</g>
<g>
<path d="M1105.3 290.6 C1116.6 287.4 1152.9 287.4 1164.2 290.6 L1164 325 L1165 325.8 L1165 327 L1104.5 327 L1104.5 325.8 Z" fill="#1d1d1b"/>
<rect x="1133.65" y="280" width="2.2" height="9" fill="#1d1d1b"/>
<path d="M1131.95 283.4 h5.6 l1 1.6 v2.4 h-7.6 v-2.4 Z" fill="#1d1d1b"/>
<rect x="1129.75" y="279.4" width="10" height="1.7" rx="0.6" fill="#1d1d1b"/>
<rect x="1158.6" y="291.5" width="5.2" height="0.95" fill="#a9a7a3"/>
<rect x="1157.14" y="293.82" width="5.2" height="0.95" fill="#a9a7a3"/>
<rect x="1155.69" y="296.14" width="5.2" height="0.95" fill="#a9a7a3"/>
<rect x="1154.23" y="298.46" width="5.2" height="0.95" fill="#a9a7a3"/>
<rect x="1152.77" y="300.79" width="5.2" height="0.95" fill="#a9a7a3"/>
<rect x="1151.31" y="303.11" width="5.2" height="0.95" fill="#a9a7a3"/>
<rect x="1149.86" y="305.43" width="5.2" height="0.95" fill="#a9a7a3"/>
<rect x="1148.4" y="307.75" width="5.2" height="0.95" fill="#a9a7a3"/>
<rect x="1146.94" y="310.07" width="5.2" height="0.95" fill="#a9a7a3"/>
<rect x="1145.49" y="312.39" width="5.2" height="0.95" fill="#a9a7a3"/>
<rect x="1144.03" y="314.71" width="5.2" height="0.95" fill="#a9a7a3"/>
<rect x="1142.57" y="317.04" width="5.2" height="0.95" fill="#a9a7a3"/>
<rect x="1141.11" y="319.36" width="5.2" height="0.95" fill="#a9a7a3"/>
<rect x="1139.66" y="321.68" width="5.2" height="0.95" fill="#a9a7a3"/>
<rect x="1138.2" y="324" width="5.2" height="0.95" fill="#a9a7a3"/>
</g>
<g>
<path d="M1342.1 288.9 C1352.7 285.7 1386.9 285.7 1397.5 288.9 L1397.3 319.8 L1398.3 320.6 L1398.3 321.8 L1341.3 321.8 L1341.3 320.6 Z" fill="#1d1d1b"/>
<rect x="1368.7" y="278.3" width="2.2" height="9" fill="#1d1d1b"/>
<path d="M1367 281.7 h5.6 l1 1.6 v2.4 h-7.6 v-2.4 Z" fill="#1d1d1b"/>
<rect x="1364.8" y="277.7" width="10" height="1.7" rx="0.6" fill="#1d1d1b"/>
<rect x="1391.9" y="289.8" width="5.2" height="0.95" fill="#a9a7a3"/>
<rect x="1390.54" y="291.87" width="5.2" height="0.95" fill="#a9a7a3"/>
<rect x="1389.19" y="293.94" width="5.2" height="0.95" fill="#a9a7a3"/>
<rect x="1387.83" y="296.01" width="5.2" height="0.95" fill="#a9a7a3"/>
<rect x="1386.47" y="298.09" width="5.2" height="0.95" fill="#a9a7a3"/>
<rect x="1385.11" y="300.16" width="5.2" height="0.95" fill="#a9a7a3"/>
<rect x="1383.76" y="302.23" width="5.2" height="0.95" fill="#a9a7a3"/>
<rect x="1382.4" y="304.3" width="5.2" height="0.95" fill="#a9a7a3"/>
<rect x="1381.04" y="306.37" width="5.2" height="0.95" fill="#a9a7a3"/>
<rect x="1379.69" y="308.44" width="5.2" height="0.95" fill="#a9a7a3"/>
<rect x="1378.33" y="310.51" width="5.2" height="0.95" fill="#a9a7a3"/>
<rect x="1376.97" y="312.59" width="5.2" height="0.95" fill="#a9a7a3"/>
<rect x="1375.61" y="314.66" width="5.2" height="0.95" fill="#a9a7a3"/>
<rect x="1374.26" y="316.73" width="5.2" height="0.95" fill="#a9a7a3"/>
<rect x="1372.9" y="318.8" width="5.2" height="0.95" fill="#a9a7a3"/>
</g>
<g>
<path d="M1274.6 306.4 C1285.7 303.2 1321.4 303.2 1332.5 306.4 L1332.3 339.3 L1333.3 340.1 L1333.3 341.3 L1273.8 341.3 L1273.8 340.1 Z" fill="#1d1d1b"/>
<rect x="1302.45" y="295.8" width="2.2" height="9" fill="#1d1d1b"/>
<path d="M1300.75 299.2 h5.6 l1 1.6 v2.4 h-7.6 v-2.4 Z" fill="#1d1d1b"/>
<rect x="1298.55" y="295.2" width="10" height="1.7" rx="0.6" fill="#1d1d1b"/>
<rect x="1326.9" y="307.3" width="5.2" height="0.95" fill="#a9a7a3"/>
<rect x="1325.47" y="309.51" width="5.2" height="0.95" fill="#a9a7a3"/>
<rect x="1324.04" y="311.73" width="5.2" height="0.95" fill="#a9a7a3"/>
<rect x="1322.61" y="313.94" width="5.2" height="0.95" fill="#a9a7a3"/>
<rect x="1321.19" y="316.16" width="5.2" height="0.95" fill="#a9a7a3"/>
<rect x="1319.76" y="318.37" width="5.2" height="0.95" fill="#a9a7a3"/>
<rect x="1318.33" y="320.59" width="5.2" height="0.95" fill="#a9a7a3"/>
<rect x="1316.9" y="322.8" width="5.2" height="0.95" fill="#a9a7a3"/>
<rect x="1315.47" y="325.01" width="5.2" height="0.95" fill="#a9a7a3"/>
<rect x="1314.04" y="327.23" width="5.2" height="0.95" fill="#a9a7a3"/>
<rect x="1312.61" y="329.44" width="5.2" height="0.95" fill="#a9a7a3"/>
<rect x="1311.19" y="331.66" width="5.2" height="0.95" fill="#a9a7a3"/>
<rect x="1309.76" y="333.87" width="5.2" height="0.95" fill="#a9a7a3"/>
<rect x="1308.33" y="336.09" width="5.2" height="0.95" fill="#a9a7a3"/>
<rect x="1306.9" y="338.3" width="5.2" height="0.95" fill="#a9a7a3"/>
</g>
<g>
<path d="M1205.8 324.6 C1217.1 321.4 1253.4 321.4 1264.7 324.6 L1264.5 359 L1265.5 359.8 L1265.5 361 L1205 361 L1205 359.8 Z" fill="#1d1d1b"/>
<rect x="1234.15" y="314" width="2.2" height="9" fill="#1d1d1b"/>
<path d="M1232.45 317.4 h5.6 l1 1.6 v2.4 h-7.6 v-2.4 Z" fill="#1d1d1b"/>
<rect x="1230.25" y="313.4" width="10" height="1.7" rx="0.6" fill="#1d1d1b"/>
<rect x="1259.1" y="325.5" width="5.2" height="0.95" fill="#a9a7a3"/>
<rect x="1257.64" y="327.82" width="5.2" height="0.95" fill="#a9a7a3"/>
<rect x="1256.19" y="330.14" width="5.2" height="0.95" fill="#a9a7a3"/>
<rect x="1254.73" y="332.46" width="5.2" height="0.95" fill="#a9a7a3"/>
<rect x="1253.27" y="334.79" width="5.2" height="0.95" fill="#a9a7a3"/>
<rect x="1251.81" y="337.11" width="5.2" height="0.95" fill="#a9a7a3"/>
<rect x="1250.36" y="339.43" width="5.2" height="0.95" fill="#a9a7a3"/>
<rect x="1248.9" y="341.75" width="5.2" height="0.95" fill="#a9a7a3"/>
<rect x="1247.44" y="344.07" width="5.2" height="0.95" fill="#a9a7a3"/>
<rect x="1245.99" y="346.39" width="5.2" height="0.95" fill="#a9a7a3"/>
<rect x="1244.53" y="348.71" width="5.2" height="0.95" fill="#a9a7a3"/>
<rect x="1243.07" y="351.04" width="5.2" height="0.95" fill="#a9a7a3"/>
<rect x="1241.61" y="353.36" width="5.2" height="0.95" fill="#a9a7a3"/>
<rect x="1240.16" y="355.68" width="5.2" height="0.95" fill="#a9a7a3"/>
<rect x="1238.7" y="358" width="5.2" height="0.95" fill="#a9a7a3"/>
</g>
<g>
<path d="M1755.1 339.3 C1765.64 336.1 1799.66 336.1 1810.2 339.3 L1810 370.7 L1811 371.5 L1811 372.7 L1754.3 372.7 L1754.3 371.5 Z" fill="#1d1d1b"/>
<rect x="1781.55" y="328.7" width="2.2" height="9" fill="#1d1d1b"/>
<path d="M1779.85 332.1 h5.6 l1 1.6 v2.4 h-7.6 v-2.4 Z" fill="#1d1d1b"/>
<rect x="1777.65" y="328.1" width="10" height="1.7" rx="0.6" fill="#1d1d1b"/>
<rect x="1804.6" y="340.2" width="5.2" height="0.95" fill="#a9a7a3"/>
<rect x="1803.25" y="342.31" width="5.2" height="0.95" fill="#a9a7a3"/>
<rect x="1801.9" y="344.41" width="5.2" height="0.95" fill="#a9a7a3"/>
<rect x="1800.55" y="346.52" width="5.2" height="0.95" fill="#a9a7a3"/>
<rect x="1799.21" y="348.63" width="5.2" height="0.95" fill="#a9a7a3"/>
<rect x="1797.86" y="350.74" width="5.2" height="0.95" fill="#a9a7a3"/>
<rect x="1796.51" y="352.84" width="5.2" height="0.95" fill="#a9a7a3"/>
<rect x="1795.16" y="354.95" width="5.2" height="0.95" fill="#a9a7a3"/>
<rect x="1793.81" y="357.06" width="5.2" height="0.95" fill="#a9a7a3"/>
<rect x="1792.46" y="359.16" width="5.2" height="0.95" fill="#a9a7a3"/>
<rect x="1791.11" y="361.27" width="5.2" height="0.95" fill="#a9a7a3"/>
<rect x="1789.77" y="363.38" width="5.2" height="0.95" fill="#a9a7a3"/>
<rect x="1788.42" y="365.49" width="5.2" height="0.95" fill="#a9a7a3"/>
<rect x="1787.07" y="367.59" width="5.2" height="0.95" fill="#a9a7a3"/>
<rect x="1785.72" y="369.7" width="5.2" height="0.95" fill="#a9a7a3"/>
</g>
<g>
<path d="M1681.5 365.3 C1692.1 362.1 1726.3 362.1 1736.9 365.3 L1736.7 396.3 L1737.7 397.1 L1737.7 398.3 L1680.7 398.3 L1680.7 397.1 Z" fill="#1d1d1b"/>
<rect x="1708.1" y="354.7" width="2.2" height="9" fill="#1d1d1b"/>
<path d="M1706.4 358.1 h5.6 l1 1.6 v2.4 h-7.6 v-2.4 Z" fill="#1d1d1b"/>
<rect x="1704.2" y="354.1" width="10" height="1.7" rx="0.6" fill="#1d1d1b"/>
<rect x="1731.3" y="366.2" width="5.2" height="0.95" fill="#a9a7a3"/>
<rect x="1729.94" y="368.28" width="5.2" height="0.95" fill="#a9a7a3"/>
<rect x="1728.59" y="370.36" width="5.2" height="0.95" fill="#a9a7a3"/>
<rect x="1727.23" y="372.44" width="5.2" height="0.95" fill="#a9a7a3"/>
<rect x="1725.87" y="374.51" width="5.2" height="0.95" fill="#a9a7a3"/>
<rect x="1724.51" y="376.59" width="5.2" height="0.95" fill="#a9a7a3"/>
<rect x="1723.16" y="378.67" width="5.2" height="0.95" fill="#a9a7a3"/>
<rect x="1721.8" y="380.75" width="5.2" height="0.95" fill="#a9a7a3"/>
<rect x="1720.44" y="382.83" width="5.2" height="0.95" fill="#a9a7a3"/>
<rect x="1719.09" y="384.91" width="5.2" height="0.95" fill="#a9a7a3"/>
<rect x="1717.73" y="386.99" width="5.2" height="0.95" fill="#a9a7a3"/>
<rect x="1716.37" y="389.06" width="5.2" height="0.95" fill="#a9a7a3"/>
<rect x="1715.01" y="391.14" width="5.2" height="0.95" fill="#a9a7a3"/>
<rect x="1713.66" y="393.22" width="5.2" height="0.95" fill="#a9a7a3"/>
<rect x="1712.3" y="395.3" width="5.2" height="0.95" fill="#a9a7a3"/>
</g>
<g>
<path d="M1825.8 360.9 C1836.54 357.7 1871.16 357.7 1881.9 360.9 L1881.7 392.3 L1882.7 393.1 L1882.7 394.3 L1825 394.3 L1825 393.1 Z" fill="#1d1d1b"/>
<rect x="1852.75" y="350.3" width="2.2" height="9" fill="#1d1d1b"/>
<path d="M1851.05 353.7 h5.6 l1 1.6 v2.4 h-7.6 v-2.4 Z" fill="#1d1d1b"/>
<rect x="1848.85" y="349.7" width="10" height="1.7" rx="0.6" fill="#1d1d1b"/>
<rect x="1876.3" y="361.8" width="5.2" height="0.95" fill="#a9a7a3"/>
<rect x="1874.92" y="363.91" width="5.2" height="0.95" fill="#a9a7a3"/>
<rect x="1873.55" y="366.01" width="5.2" height="0.95" fill="#a9a7a3"/>
<rect x="1872.17" y="368.12" width="5.2" height="0.95" fill="#a9a7a3"/>
<rect x="1870.79" y="370.23" width="5.2" height="0.95" fill="#a9a7a3"/>
<rect x="1869.41" y="372.34" width="5.2" height="0.95" fill="#a9a7a3"/>
<rect x="1868.04" y="374.44" width="5.2" height="0.95" fill="#a9a7a3"/>
<rect x="1866.66" y="376.55" width="5.2" height="0.95" fill="#a9a7a3"/>
<rect x="1865.28" y="378.66" width="5.2" height="0.95" fill="#a9a7a3"/>
<rect x="1863.91" y="380.76" width="5.2" height="0.95" fill="#a9a7a3"/>
<rect x="1862.53" y="382.87" width="5.2" height="0.95" fill="#a9a7a3"/>
<rect x="1861.15" y="384.98" width="5.2" height="0.95" fill="#a9a7a3"/>
<rect x="1859.77" y="387.09" width="5.2" height="0.95" fill="#a9a7a3"/>
<rect x="1858.4" y="389.19" width="5.2" height="0.95" fill="#a9a7a3"/>
<rect x="1857.02" y="391.3" width="5.2" height="0.95" fill="#a9a7a3"/>
</g>
<g>
<path d="M1751.8 387.6 C1762.46 384.4 1796.84 384.4 1807.5 387.6 L1807.3 419 L1808.3 419.8 L1808.3 421 L1751 421 L1751 419.8 Z" fill="#1d1d1b"/>
<rect x="1778.55" y="377" width="2.2" height="9" fill="#1d1d1b"/>
<path d="M1776.85 380.4 h5.6 l1 1.6 v2.4 h-7.6 v-2.4 Z" fill="#1d1d1b"/>
<rect x="1774.65" y="376.4" width="10" height="1.7" rx="0.6" fill="#1d1d1b"/>
<rect x="1801.9" y="388.5" width="5.2" height="0.95" fill="#a9a7a3"/>
<rect x="1800.53" y="390.61" width="5.2" height="0.95" fill="#a9a7a3"/>
<rect x="1799.17" y="392.71" width="5.2" height="0.95" fill="#a9a7a3"/>
<rect x="1797.8" y="394.82" width="5.2" height="0.95" fill="#a9a7a3"/>
<rect x="1796.44" y="396.93" width="5.2" height="0.95" fill="#a9a7a3"/>
<rect x="1795.07" y="399.04" width="5.2" height="0.95" fill="#a9a7a3"/>
<rect x="1793.71" y="401.14" width="5.2" height="0.95" fill="#a9a7a3"/>
<rect x="1792.34" y="403.25" width="5.2" height="0.95" fill="#a9a7a3"/>
<rect x="1790.97" y="405.36" width="5.2" height="0.95" fill="#a9a7a3"/>
<rect x="1789.61" y="407.46" width="5.2" height="0.95" fill="#a9a7a3"/>
<rect x="1788.24" y="409.57" width="5.2" height="0.95" fill="#a9a7a3"/>
<rect x="1786.88" y="411.68" width="5.2" height="0.95" fill="#a9a7a3"/>
<rect x="1785.51" y="413.79" width="5.2" height="0.95" fill="#a9a7a3"/>
<rect x="1784.15" y="415.89" width="5.2" height="0.95" fill="#a9a7a3"/>
<rect x="1782.78" y="418" width="5.2" height="0.95" fill="#a9a7a3"/>
</g>
<g>
<line x1="1442.1" y1="351.8" x2="1442.1" y2="384.8" stroke="#1d1d1b" stroke-width="1.9"/>
<line x1="1493.5" y1="351.8" x2="1493.5" y2="384.8" stroke="#1d1d1b" stroke-width="1.9"/>
<line x1="1454.55" y1="373" x2="1454.55" y2="381.8" stroke="#1d1d1b" stroke-width="1.7"/>
<line x1="1481.05" y1="373" x2="1481.05" y2="381.8" stroke="#1d1d1b" stroke-width="1.7"/>
<path d="M1441.3 351.8 A26.5 26.5 0 0 1 1494.3 351.8 Z" fill="#ffffff"/>
<path d="M1441.3 351.8 A26.5 26.5 0 0 0 1494.3 351.8 Z" fill="#1d1d1b"/>
</g>
<g>
<line x1="1380.3" y1="372.3" x2="1380.3" y2="405.3" stroke="#1d1d1b" stroke-width="1.9"/>
<line x1="1431.7" y1="372.3" x2="1431.7" y2="405.3" stroke="#1d1d1b" stroke-width="1.9"/>
<line x1="1392.75" y1="393.5" x2="1392.75" y2="402.3" stroke="#1d1d1b" stroke-width="1.7"/>
<line x1="1419.25" y1="393.5" x2="1419.25" y2="402.3" stroke="#1d1d1b" stroke-width="1.7"/>
<path d="M1379.5 372.3 A26.5 26.5 0 0 1 1432.5 372.3 Z" fill="#ffffff"/>
<path d="M1379.5 372.3 A26.5 26.5 0 0 0 1432.5 372.3 Z" fill="#1d1d1b"/>
</g>
<g>
<line x1="1513" y1="376.2" x2="1513" y2="409.2" stroke="#1d1d1b" stroke-width="1.9"/>
<line x1="1564.4" y1="376.2" x2="1564.4" y2="409.2" stroke="#1d1d1b" stroke-width="1.9"/>
<line x1="1525.45" y1="397.4" x2="1525.45" y2="406.2" stroke="#1d1d1b" stroke-width="1.7"/>
<line x1="1551.95" y1="397.4" x2="1551.95" y2="406.2" stroke="#1d1d1b" stroke-width="1.7"/>
<path d="M1512.2 376.2 A26.5 26.5 0 0 1 1565.2 376.2 Z" fill="#ffffff"/>
<path d="M1512.2 376.2 A26.5 26.5 0 0 0 1565.2 376.2 Z" fill="#1d1d1b"/>
</g>
<g>
<line x1="1316.3" y1="393" x2="1316.3" y2="426" stroke="#1d1d1b" stroke-width="1.9"/>
<line x1="1367.7" y1="393" x2="1367.7" y2="426" stroke="#1d1d1b" stroke-width="1.9"/>
<line x1="1328.75" y1="414.2" x2="1328.75" y2="423" stroke="#1d1d1b" stroke-width="1.7"/>
<line x1="1355.25" y1="414.2" x2="1355.25" y2="423" stroke="#1d1d1b" stroke-width="1.7"/>
<path d="M1315.5 393 A26.5 26.5 0 0 1 1368.5 393 Z" fill="#ffffff"/>
<path d="M1315.5 393 A26.5 26.5 0 0 0 1368.5 393 Z" fill="#1d1d1b"/>
</g>
<g>
<line x1="1451.3" y1="397.2" x2="1451.3" y2="430.2" stroke="#1d1d1b" stroke-width="1.9"/>
<line x1="1502.7" y1="397.2" x2="1502.7" y2="430.2" stroke="#1d1d1b" stroke-width="1.9"/>
<line x1="1463.75" y1="418.4" x2="1463.75" y2="427.2" stroke="#1d1d1b" stroke-width="1.7"/>
<line x1="1490.25" y1="418.4" x2="1490.25" y2="427.2" stroke="#1d1d1b" stroke-width="1.7"/>
<path d="M1450.5 397.2 A26.5 26.5 0 0 1 1503.5 397.2 Z" fill="#ffffff"/>
<path d="M1450.5 397.2 A26.5 26.5 0 0 0 1503.5 397.2 Z" fill="#1d1d1b"/>
</g>
<g>
<line x1="1387.3" y1="418.3" x2="1387.3" y2="451.3" stroke="#1d1d1b" stroke-width="1.9"/>
<line x1="1438.7" y1="418.3" x2="1438.7" y2="451.3" stroke="#1d1d1b" stroke-width="1.9"/>
<line x1="1399.75" y1="439.5" x2="1399.75" y2="448.3" stroke="#1d1d1b" stroke-width="1.7"/>
<line x1="1426.25" y1="439.5" x2="1426.25" y2="448.3" stroke="#1d1d1b" stroke-width="1.7"/>
<path d="M1386.5 418.3 A26.5 26.5 0 0 1 1439.5 418.3 Z" fill="#ffffff"/>
<path d="M1386.5 418.3 A26.5 26.5 0 0 0 1439.5 418.3 Z" fill="#1d1d1b"/>
</g>
<g>
<line x1="2113.6" y1="356.3" x2="2113.6" y2="389.3" stroke="#1d1d1b" stroke-width="1.9"/>
<line x1="2165" y1="356.3" x2="2165" y2="389.3" stroke="#1d1d1b" stroke-width="1.9"/>
<line x1="2126.05" y1="377.5" x2="2126.05" y2="386.3" stroke="#1d1d1b" stroke-width="1.7"/>
<line x1="2152.55" y1="377.5" x2="2152.55" y2="386.3" stroke="#1d1d1b" stroke-width="1.7"/>
<path d="M2112.8 356.3 A26.5 26.5 0 0 1 2165.8 356.3 Z" fill="#ffffff"/>
<path d="M2112.8 356.3 A26.5 26.5 0 0 0 2165.8 356.3 Z" fill="#1d1d1b"/>
</g>
<g>
<line x1="2050.6" y1="380.5" x2="2050.6" y2="413.5" stroke="#1d1d1b" stroke-width="1.9"/>
<line x1="2102" y1="380.5" x2="2102" y2="413.5" stroke="#1d1d1b" stroke-width="1.9"/>
<line x1="2063.05" y1="401.7" x2="2063.05" y2="410.5" stroke="#1d1d1b" stroke-width="1.7"/>
<line x1="2089.55" y1="401.7" x2="2089.55" y2="410.5" stroke="#1d1d1b" stroke-width="1.7"/>
<path d="M2049.8 380.5 A26.5 26.5 0 0 1 2102.8 380.5 Z" fill="#ffffff"/>
<path d="M2049.8 380.5 A26.5 26.5 0 0 0 2102.8 380.5 Z" fill="#1d1d1b"/>
</g>
<g>
<line x1="2190" y1="378.5" x2="2190" y2="411.5" stroke="#1d1d1b" stroke-width="1.9"/>
<line x1="2241.4" y1="378.5" x2="2241.4" y2="411.5" stroke="#1d1d1b" stroke-width="1.9"/>
<line x1="2202.45" y1="399.7" x2="2202.45" y2="408.5" stroke="#1d1d1b" stroke-width="1.7"/>
<line x1="2228.95" y1="399.7" x2="2228.95" y2="408.5" stroke="#1d1d1b" stroke-width="1.7"/>
<path d="M2189.2 378.5 A26.5 26.5 0 0 1 2242.2 378.5 Z" fill="#ffffff"/>
<path d="M2189.2 378.5 A26.5 26.5 0 0 0 2242.2 378.5 Z" fill="#1d1d1b"/>
</g>
<g>
<line x1="2127.3" y1="403.5" x2="2127.3" y2="436.5" stroke="#1d1d1b" stroke-width="1.9"/>
<line x1="2178.7" y1="403.5" x2="2178.7" y2="436.5" stroke="#1d1d1b" stroke-width="1.9"/>
<line x1="2139.75" y1="424.7" x2="2139.75" y2="433.5" stroke="#1d1d1b" stroke-width="1.7"/>
<line x1="2166.25" y1="424.7" x2="2166.25" y2="433.5" stroke="#1d1d1b" stroke-width="1.7"/>
<path d="M2126.5 403.5 A26.5 26.5 0 0 1 2179.5 403.5 Z" fill="#ffffff"/>
<path d="M2126.5 403.5 A26.5 26.5 0 0 0 2179.5 403.5 Z" fill="#1d1d1b"/>
</g>
<polygon points="170,279.4 176.9,279.4 199.4,308.1 203.5,310.6 207,311.4 204.2,303.6 206.9,303.1 215,313.1 217.5,314 272.5,314.8 273.1,311.9 275,312.5 276.3,315 337.5,316 345,316.8 352.5,318.1 357,320.2 361.3,323.1 365,326 367.5,328.1 367.3,329.6 365,331.3 360,333.2 355,334.4 340,335.3 325,335.6 300,335.6 298.8,337.5 293.8,339 277.5,339 274,338 271.3,336.3 228.8,335 214,333 200,330 190,326.5 181.3,322.5 175,319.4 175.4,317.6 176.3,316.9 155,313.1 155,312.2 178.4,315.3" fill="#1d1d1b"/>
<circle cx="264" cy="339.6" r="2.5" fill="#1d1d1b"/>
<rect x="263.2" y="334" width="1.6" height="5" fill="#1d1d1b"/>
<circle cx="341.3" cy="339.3" r="2" fill="#1d1d1b"/><circle cx="346.2" cy="339.3" r="2" fill="#1d1d1b"/>
<rect x="343" y="333" width="1.4" height="6" fill="#1d1d1b"/>
<rect x="208.8" y="341.4" width="157.5" height="2.1" fill="#ffffff"/>
<g transform="translate(40.9 370.2)">
<line x1="42" y1="-12" x2="51" y2="-2" stroke="#2e2e2e" stroke-width="0.75"/>
<line x1="43.5" y1="-12" x2="52.5" y2="-2" stroke="#2e2e2e" stroke-width="0.75"/>
<line x1="45" y1="-12" x2="54" y2="-2" stroke="#2e2e2e" stroke-width="0.75"/>
<line x1="46.5" y1="-12" x2="55.5" y2="-2" stroke="#2e2e2e" stroke-width="0.75"/>
<line x1="48" y1="-12" x2="57" y2="-2" stroke="#2e2e2e" stroke-width="0.75"/>
<line x1="49.5" y1="-12" x2="58.5" y2="-2" stroke="#2e2e2e" stroke-width="0.75"/>
<line x1="51" y1="-12" x2="60" y2="-2" stroke="#2e2e2e" stroke-width="0.75"/>
<line x1="52.5" y1="-12" x2="61.5" y2="-2" stroke="#2e2e2e" stroke-width="0.75"/>
<line x1="54" y1="-12" x2="63" y2="-2" stroke="#2e2e2e" stroke-width="0.75"/>
<line x1="62" y1="-9.5" x2="54.5" y2="-1.5" stroke="#2e2e2e" stroke-width="0.8"/>
<line x1="63.4" y1="-9.5" x2="55.9" y2="-1.5" stroke="#2e2e2e" stroke-width="0.8"/>
<line x1="64.8" y1="-9.5" x2="57.3" y2="-1.5" stroke="#2e2e2e" stroke-width="0.8"/>
<line x1="68.3" y1="-9.5" x2="60.8" y2="-1.5" stroke="#2e2e2e" stroke-width="0.8"/>
<line x1="69.7" y1="-9.5" x2="62.2" y2="-1.5" stroke="#2e2e2e" stroke-width="0.8"/>
<line x1="71.1" y1="-9.5" x2="63.6" y2="-1.5" stroke="#2e2e2e" stroke-width="0.8"/>
<line x1="74.6" y1="-9.5" x2="67.1" y2="-1.5" stroke="#2e2e2e" stroke-width="0.8"/>
<line x1="76" y1="-9.5" x2="68.5" y2="-1.5" stroke="#2e2e2e" stroke-width="0.8"/>
<line x1="77.4" y1="-9.5" x2="69.9" y2="-1.5" stroke="#2e2e2e" stroke-width="0.8"/>
<rect x="15" y="-12.3" width="25" height="5.2" fill="#1d1d1b"/>
<rect x="84" y="-10.6" width="14" height="3.2" fill="#1d1d1b"/>
<path d="M0 -7 L0 -18 L4.4 -26.5 Q4.8 -27.2 5.6 -27.2 L15.4 -27.2 L15.4 -6.8 L1 -6.8 Z" fill="#1d1d1b"/>
<path d="M2.4 -18.6 L5.8 -25.5 L7.6 -25.5 L7.6 -18.6 Z" fill="#8f8d89"/>
<rect x="9.4" y="-25.5" width="4.2" height="6.9" fill="#8f8d89"/>
<rect x="-0.6" y="-8.2" width="2.4" height="2" fill="#1d1d1b"/>
<path d="M21.6 -29 L96.4 -29 Q99.8 -29 99.8 -25.6 L99.8 -13.6 Q99.8 -10.4 96.4 -10.4 L51.5 -10.4 L42.5 -14 L21.6 -14 Q18.2 -14 18.2 -17.4 L18.2 -25.6 Q18.2 -29 21.6 -29 Z" fill="#ffffff" stroke="#2a2a2a" stroke-width="0.6"/>
<rect x="19.5" y="-20.8" width="79" height="1.3" fill="#c9c8c5"/>
<circle cx="10.5" cy="-4.1" r="4.3" fill="#1d1d1b"/><circle cx="10.5" cy="-4.1" r="2.3" fill="#ffffff"/>
<circle cx="25.9" cy="-4.1" r="4.3" fill="#1d1d1b"/><circle cx="25.9" cy="-4.1" r="2.3" fill="#ffffff"/>
<circle cx="36.1" cy="-4.1" r="4.3" fill="#1d1d1b"/><circle cx="36.1" cy="-4.1" r="2.3" fill="#ffffff"/>
<circle cx="80.5" cy="-4.1" r="4.3" fill="#1d1d1b"/><circle cx="80.5" cy="-4.1" r="2.3" fill="#ffffff"/>
<circle cx="91" cy="-4.1" r="4.3" fill="#1d1d1b"/><circle cx="91" cy="-4.1" r="2.3" fill="#ffffff"/>
</g>
<line x1="140.5" y1="354.7" x2="228.5" y2="335.2" stroke="#ffffff" stroke-width="2.4"/>
<rect x="608.5" y="130.2" width="122.5" height="3.2" fill="#1d1d1b"/>
<path d="M608.5 130.2 l-2.5 1.6 l2.5 1.6Z M731 130.2 l2.5 1.6 l-2.5 1.6Z" fill="#1d1d1b"/>
<rect x="648.92" y="129.2" width="2" height="1.4" fill="#1d1d1b"/>
<rect x="689.35" y="129.2" width="2" height="1.4" fill="#1d1d1b"/>
<rect x="619.85" y="131.8" width="2.3" height="36.7" fill="#1d1d1b"/>
<rect x="720.65" y="131.8" width="2.3" height="36.7" fill="#1d1d1b"/>
<rect x="605.6" y="167.1" width="94.4" height="2.8" fill="#1d1d1b"/>
<path d="M648.5 135.8 h18 v3 h8" fill="none" stroke="#555" stroke-width="0.8"/>
<path d="M658.5 138.3 h14 v4" fill="none" stroke="#555" stroke-width="0.8"/>
<g transform="translate(709.31 167.6) scale(-0.98 1)">
<line x1="42" y1="-12" x2="51" y2="-2" stroke="#2e2e2e" stroke-width="0.75"/>
<line x1="43.5" y1="-12" x2="52.5" y2="-2" stroke="#2e2e2e" stroke-width="0.75"/>
<line x1="45" y1="-12" x2="54" y2="-2" stroke="#2e2e2e" stroke-width="0.75"/>
<line x1="46.5" y1="-12" x2="55.5" y2="-2" stroke="#2e2e2e" stroke-width="0.75"/>
<line x1="48" y1="-12" x2="57" y2="-2" stroke="#2e2e2e" stroke-width="0.75"/>
<line x1="49.5" y1="-12" x2="58.5" y2="-2" stroke="#2e2e2e" stroke-width="0.75"/>
<line x1="51" y1="-12" x2="60" y2="-2" stroke="#2e2e2e" stroke-width="0.75"/>
<line x1="52.5" y1="-12" x2="61.5" y2="-2" stroke="#2e2e2e" stroke-width="0.75"/>
<line x1="54" y1="-12" x2="63" y2="-2" stroke="#2e2e2e" stroke-width="0.75"/>
<line x1="62" y1="-9.5" x2="54.5" y2="-1.5" stroke="#2e2e2e" stroke-width="0.8"/>
<line x1="63.4" y1="-9.5" x2="55.9" y2="-1.5" stroke="#2e2e2e" stroke-width="0.8"/>
<line x1="64.8" y1="-9.5" x2="57.3" y2="-1.5" stroke="#2e2e2e" stroke-width="0.8"/>
<line x1="68.3" y1="-9.5" x2="60.8" y2="-1.5" stroke="#2e2e2e" stroke-width="0.8"/>
<line x1="69.7" y1="-9.5" x2="62.2" y2="-1.5" stroke="#2e2e2e" stroke-width="0.8"/>
<line x1="71.1" y1="-9.5" x2="63.6" y2="-1.5" stroke="#2e2e2e" stroke-width="0.8"/>
<line x1="74.6" y1="-9.5" x2="67.1" y2="-1.5" stroke="#2e2e2e" stroke-width="0.8"/>
<line x1="76" y1="-9.5" x2="68.5" y2="-1.5" stroke="#2e2e2e" stroke-width="0.8"/>
<line x1="77.4" y1="-9.5" x2="69.9" y2="-1.5" stroke="#2e2e2e" stroke-width="0.8"/>
<rect x="15" y="-12.3" width="25" height="5.2" fill="#1d1d1b"/>
<rect x="84" y="-10.6" width="14" height="3.2" fill="#1d1d1b"/>
<path d="M0 -7 L0 -18 L4.4 -26.5 Q4.8 -27.2 5.6 -27.2 L15.4 -27.2 L15.4 -6.8 L1 -6.8 Z" fill="#1d1d1b"/>
<path d="M2.4 -18.6 L5.8 -25.5 L7.6 -25.5 L7.6 -18.6 Z" fill="#8f8d89"/>
<rect x="9.4" y="-25.5" width="4.2" height="6.9" fill="#8f8d89"/>
<rect x="-0.6" y="-8.2" width="2.4" height="2" fill="#1d1d1b"/>
<path d="M21.6 -29 L96.4 -29 Q99.8 -29 99.8 -25.6 L99.8 -13.6 Q99.8 -10.4 96.4 -10.4 L51.5 -10.4 L42.5 -14 L21.6 -14 Q18.2 -14 18.2 -17.4 L18.2 -25.6 Q18.2 -29 21.6 -29 Z" fill="#ffffff" stroke="#2a2a2a" stroke-width="0.6"/>
<rect x="19.5" y="-20.8" width="79" height="1.3" fill="#c9c8c5"/>
<circle cx="10.5" cy="-4.1" r="4.3" fill="#1d1d1b"/><circle cx="10.5" cy="-4.1" r="2.3" fill="#ffffff"/>
<circle cx="25.9" cy="-4.1" r="4.3" fill="#1d1d1b"/><circle cx="25.9" cy="-4.1" r="2.3" fill="#ffffff"/>
<circle cx="36.1" cy="-4.1" r="4.3" fill="#1d1d1b"/><circle cx="36.1" cy="-4.1" r="2.3" fill="#ffffff"/>
<circle cx="80.5" cy="-4.1" r="4.3" fill="#1d1d1b"/><circle cx="80.5" cy="-4.1" r="2.3" fill="#ffffff"/>
<circle cx="91" cy="-4.1" r="4.3" fill="#1d1d1b"/><circle cx="91" cy="-4.1" r="2.3" fill="#ffffff"/>
</g>
<rect x="666.2" y="149.5" width="121.8" height="3.2" fill="#1d1d1b"/>
<path d="M666.2 149.5 l-2.5 1.6 l2.5 1.6Z M788 149.5 l2.5 1.6 l-2.5 1.6Z" fill="#1d1d1b"/>
<rect x="706.39" y="148.5" width="2" height="1.4" fill="#1d1d1b"/>
<rect x="746.59" y="148.5" width="2" height="1.4" fill="#1d1d1b"/>
<rect x="778.05" y="151.1" width="2.3" height="37.1" fill="#1d1d1b"/>
<rect x="662.7" y="186.8" width="129.6" height="2.8" fill="#1d1d1b"/>
<path d="M706.2 155.1 h18 v3 h8" fill="none" stroke="#555" stroke-width="0.8"/>
<path d="M716.2 157.6 h14 v4" fill="none" stroke="#555" stroke-width="0.8"/>
<rect x="773.2" y="167" width="11.3" height="10.6" fill="#b9b7b3" stroke="#1d1d1b" stroke-width="0.9"/>
<g transform="translate(767.81 187.4) scale(-0.98 1)">
<line x1="42" y1="-12" x2="51" y2="-2" stroke="#2e2e2e" stroke-width="0.75"/>
<line x1="43.5" y1="-12" x2="52.5" y2="-2" stroke="#2e2e2e" stroke-width="0.75"/>
<line x1="45" y1="-12" x2="54" y2="-2" stroke="#2e2e2e" stroke-width="0.75"/>
<line x1="46.5" y1="-12" x2="55.5" y2="-2" stroke="#2e2e2e" stroke-width="0.75"/>
<line x1="48" y1="-12" x2="57" y2="-2" stroke="#2e2e2e" stroke-width="0.75"/>
<line x1="49.5" y1="-12" x2="58.5" y2="-2" stroke="#2e2e2e" stroke-width="0.75"/>
<line x1="51" y1="-12" x2="60" y2="-2" stroke="#2e2e2e" stroke-width="0.75"/>
<line x1="52.5" y1="-12" x2="61.5" y2="-2" stroke="#2e2e2e" stroke-width="0.75"/>
<line x1="54" y1="-12" x2="63" y2="-2" stroke="#2e2e2e" stroke-width="0.75"/>
<line x1="62" y1="-9.5" x2="54.5" y2="-1.5" stroke="#2e2e2e" stroke-width="0.8"/>
<line x1="63.4" y1="-9.5" x2="55.9" y2="-1.5" stroke="#2e2e2e" stroke-width="0.8"/>
<line x1="64.8" y1="-9.5" x2="57.3" y2="-1.5" stroke="#2e2e2e" stroke-width="0.8"/>
<line x1="68.3" y1="-9.5" x2="60.8" y2="-1.5" stroke="#2e2e2e" stroke-width="0.8"/>
<line x1="69.7" y1="-9.5" x2="62.2" y2="-1.5" stroke="#2e2e2e" stroke-width="0.8"/>
<line x1="71.1" y1="-9.5" x2="63.6" y2="-1.5" stroke="#2e2e2e" stroke-width="0.8"/>
<line x1="74.6" y1="-9.5" x2="67.1" y2="-1.5" stroke="#2e2e2e" stroke-width="0.8"/>
<line x1="76" y1="-9.5" x2="68.5" y2="-1.5" stroke="#2e2e2e" stroke-width="0.8"/>
<line x1="77.4" y1="-9.5" x2="69.9" y2="-1.5" stroke="#2e2e2e" stroke-width="0.8"/>
<rect x="15" y="-12.3" width="25" height="5.2" fill="#1d1d1b"/>
<rect x="84" y="-10.6" width="14" height="3.2" fill="#1d1d1b"/>
<path d="M0 -7 L0 -18 L4.4 -26.5 Q4.8 -27.2 5.6 -27.2 L15.4 -27.2 L15.4 -6.8 L1 -6.8 Z" fill="#1d1d1b"/>
<path d="M2.4 -18.6 L5.8 -25.5 L7.6 -25.5 L7.6 -18.6 Z" fill="#8f8d89"/>
<rect x="9.4" y="-25.5" width="4.2" height="6.9" fill="#8f8d89"/>
<rect x="-0.6" y="-8.2" width="2.4" height="2" fill="#1d1d1b"/>
<path d="M21.6 -29 L96.4 -29 Q99.8 -29 99.8 -25.6 L99.8 -13.6 Q99.8 -10.4 96.4 -10.4 L51.5 -10.4 L42.5 -14 L21.6 -14 Q18.2 -14 18.2 -17.4 L18.2 -25.6 Q18.2 -29 21.6 -29 Z" fill="#ffffff" stroke="#2a2a2a" stroke-width="0.6"/>
<rect x="19.5" y="-20.8" width="79" height="1.3" fill="#c9c8c5"/>
<circle cx="10.5" cy="-4.1" r="4.3" fill="#1d1d1b"/><circle cx="10.5" cy="-4.1" r="2.3" fill="#ffffff"/>
<circle cx="25.9" cy="-4.1" r="4.3" fill="#1d1d1b"/><circle cx="25.9" cy="-4.1" r="2.3" fill="#ffffff"/>
<circle cx="36.1" cy="-4.1" r="4.3" fill="#1d1d1b"/><circle cx="36.1" cy="-4.1" r="2.3" fill="#ffffff"/>
<circle cx="80.5" cy="-4.1" r="4.3" fill="#1d1d1b"/><circle cx="80.5" cy="-4.1" r="2.3" fill="#ffffff"/>
<circle cx="91" cy="-4.1" r="4.3" fill="#1d1d1b"/><circle cx="91" cy="-4.1" r="2.3" fill="#ffffff"/>
</g>
<rect x="178.1" y="527.8" width="121.5" height="3.2" fill="#1d1d1b"/>
<path d="M178.1 527.8 l-2.5 1.6 l2.5 1.6Z M299.6 527.8 l2.5 1.6 l-2.5 1.6Z" fill="#1d1d1b"/>
<rect x="218.19" y="526.8" width="2" height="1.4" fill="#1d1d1b"/>
<rect x="258.29" y="526.8" width="2" height="1.4" fill="#1d1d1b"/>
<rect x="190.05" y="529.4" width="2.3" height="37.8" fill="#1d1d1b"/>
<rect x="289.75" y="529.4" width="2.3" height="37.8" fill="#1d1d1b"/>
<rect x="175" y="565.8" width="129.6" height="2.8" fill="#1d1d1b"/>
<path d="M218.1 533.4 h18 v3 h8" fill="none" stroke="#555" stroke-width="0.8"/>
<path d="M228.1 535.9 h14 v4" fill="none" stroke="#555" stroke-width="0.8"/>
<rect x="285.2" y="546" width="11.3" height="9.9" fill="#b9b7b3" stroke="#1d1d1b" stroke-width="0.9"/>
<g transform="translate(279.41 566) scale(-0.98 1)">
<line x1="42" y1="-12" x2="51" y2="-2" stroke="#2e2e2e" stroke-width="0.75"/>
<line x1="43.5" y1="-12" x2="52.5" y2="-2" stroke="#2e2e2e" stroke-width="0.75"/>
<line x1="45" y1="-12" x2="54" y2="-2" stroke="#2e2e2e" stroke-width="0.75"/>
<line x1="46.5" y1="-12" x2="55.5" y2="-2" stroke="#2e2e2e" stroke-width="0.75"/>
<line x1="48" y1="-12" x2="57" y2="-2" stroke="#2e2e2e" stroke-width="0.75"/>
<line x1="49.5" y1="-12" x2="58.5" y2="-2" stroke="#2e2e2e" stroke-width="0.75"/>
<line x1="51" y1="-12" x2="60" y2="-2" stroke="#2e2e2e" stroke-width="0.75"/>
<line x1="52.5" y1="-12" x2="61.5" y2="-2" stroke="#2e2e2e" stroke-width="0.75"/>
<line x1="54" y1="-12" x2="63" y2="-2" stroke="#2e2e2e" stroke-width="0.75"/>
<line x1="62" y1="-9.5" x2="54.5" y2="-1.5" stroke="#2e2e2e" stroke-width="0.8"/>
<line x1="63.4" y1="-9.5" x2="55.9" y2="-1.5" stroke="#2e2e2e" stroke-width="0.8"/>
<line x1="64.8" y1="-9.5" x2="57.3" y2="-1.5" stroke="#2e2e2e" stroke-width="0.8"/>
<line x1="68.3" y1="-9.5" x2="60.8" y2="-1.5" stroke="#2e2e2e" stroke-width="0.8"/>
<line x1="69.7" y1="-9.5" x2="62.2" y2="-1.5" stroke="#2e2e2e" stroke-width="0.8"/>
<line x1="71.1" y1="-9.5" x2="63.6" y2="-1.5" stroke="#2e2e2e" stroke-width="0.8"/>
<line x1="74.6" y1="-9.5" x2="67.1" y2="-1.5" stroke="#2e2e2e" stroke-width="0.8"/>
<line x1="76" y1="-9.5" x2="68.5" y2="-1.5" stroke="#2e2e2e" stroke-width="0.8"/>
<line x1="77.4" y1="-9.5" x2="69.9" y2="-1.5" stroke="#2e2e2e" stroke-width="0.8"/>
<rect x="15" y="-12.3" width="25" height="5.2" fill="#1d1d1b"/>
<rect x="84" y="-10.6" width="14" height="3.2" fill="#1d1d1b"/>
<path d="M0 -7 L0 -18 L4.4 -26.5 Q4.8 -27.2 5.6 -27.2 L15.4 -27.2 L15.4 -6.8 L1 -6.8 Z" fill="#1d1d1b"/>
<path d="M2.4 -18.6 L5.8 -25.5 L7.6 -25.5 L7.6 -18.6 Z" fill="#8f8d89"/>
<rect x="9.4" y="-25.5" width="4.2" height="6.9" fill="#8f8d89"/>
<rect x="-0.6" y="-8.2" width="2.4" height="2" fill="#1d1d1b"/>
<path d="M21.6 -29 L96.4 -29 Q99.8 -29 99.8 -25.6 L99.8 -13.6 Q99.8 -10.4 96.4 -10.4 L51.5 -10.4 L42.5 -14 L21.6 -14 Q18.2 -14 18.2 -17.4 L18.2 -25.6 Q18.2 -29 21.6 -29 Z" fill="#ffffff" stroke="#2a2a2a" stroke-width="0.6"/>
<rect x="19.5" y="-20.8" width="79" height="1.3" fill="#c9c8c5"/>
<circle cx="10.5" cy="-4.1" r="4.3" fill="#1d1d1b"/><circle cx="10.5" cy="-4.1" r="2.3" fill="#ffffff"/>
<circle cx="25.9" cy="-4.1" r="4.3" fill="#1d1d1b"/><circle cx="25.9" cy="-4.1" r="2.3" fill="#ffffff"/>
<circle cx="36.1" cy="-4.1" r="4.3" fill="#1d1d1b"/><circle cx="36.1" cy="-4.1" r="2.3" fill="#ffffff"/>
<circle cx="80.5" cy="-4.1" r="4.3" fill="#1d1d1b"/><circle cx="80.5" cy="-4.1" r="2.3" fill="#ffffff"/>
<circle cx="91" cy="-4.1" r="4.3" fill="#1d1d1b"/><circle cx="91" cy="-4.1" r="2.3" fill="#ffffff"/>
</g>
<rect x="265" y="575.9" width="121.8" height="3.2" fill="#1d1d1b"/>
<path d="M265 575.9 l-2.5 1.6 l2.5 1.6Z M386.8 575.9 l2.5 1.6 l-2.5 1.6Z" fill="#1d1d1b"/>
<rect x="305.19" y="574.9" width="2" height="1.4" fill="#1d1d1b"/>
<rect x="345.39" y="574.9" width="2" height="1.4" fill="#1d1d1b"/>
<rect x="276.45" y="577.5" width="2.3" height="36.9" fill="#1d1d1b"/>
<rect x="376.65" y="577.5" width="2.3" height="36.9" fill="#1d1d1b"/>
<rect x="261.8" y="613" width="129.2" height="2.8" fill="#1d1d1b"/>
<path d="M305 581.5 h18 v3 h8" fill="none" stroke="#555" stroke-width="0.8"/>
<path d="M315 584 h14 v4" fill="none" stroke="#555" stroke-width="0.8"/>
<rect x="371.9" y="593.1" width="11.3" height="10.5" fill="#b9b7b3" stroke="#1d1d1b" stroke-width="0.9"/>
<g transform="translate(366.31 613.2) scale(-0.98 1)">
<line x1="42" y1="-12" x2="51" y2="-2" stroke="#2e2e2e" stroke-width="0.75"/>
<line x1="43.5" y1="-12" x2="52.5" y2="-2" stroke="#2e2e2e" stroke-width="0.75"/>
<line x1="45" y1="-12" x2="54" y2="-2" stroke="#2e2e2e" stroke-width="0.75"/>
<line x1="46.5" y1="-12" x2="55.5" y2="-2" stroke="#2e2e2e" stroke-width="0.75"/>
<line x1="48" y1="-12" x2="57" y2="-2" stroke="#2e2e2e" stroke-width="0.75"/>
<line x1="49.5" y1="-12" x2="58.5" y2="-2" stroke="#2e2e2e" stroke-width="0.75"/>
<line x1="51" y1="-12" x2="60" y2="-2" stroke="#2e2e2e" stroke-width="0.75"/>
<line x1="52.5" y1="-12" x2="61.5" y2="-2" stroke="#2e2e2e" stroke-width="0.75"/>
<line x1="54" y1="-12" x2="63" y2="-2" stroke="#2e2e2e" stroke-width="0.75"/>
<line x1="62" y1="-9.5" x2="54.5" y2="-1.5" stroke="#2e2e2e" stroke-width="0.8"/>
<line x1="63.4" y1="-9.5" x2="55.9" y2="-1.5" stroke="#2e2e2e" stroke-width="0.8"/>
<line x1="64.8" y1="-9.5" x2="57.3" y2="-1.5" stroke="#2e2e2e" stroke-width="0.8"/>
<line x1="68.3" y1="-9.5" x2="60.8" y2="-1.5" stroke="#2e2e2e" stroke-width="0.8"/>
<line x1="69.7" y1="-9.5" x2="62.2" y2="-1.5" stroke="#2e2e2e" stroke-width="0.8"/>
<line x1="71.1" y1="-9.5" x2="63.6" y2="-1.5" stroke="#2e2e2e" stroke-width="0.8"/>
<line x1="74.6" y1="-9.5" x2="67.1" y2="-1.5" stroke="#2e2e2e" stroke-width="0.8"/>
<line x1="76" y1="-9.5" x2="68.5" y2="-1.5" stroke="#2e2e2e" stroke-width="0.8"/>
<line x1="77.4" y1="-9.5" x2="69.9" y2="-1.5" stroke="#2e2e2e" stroke-width="0.8"/>
<rect x="15" y="-12.3" width="25" height="5.2" fill="#1d1d1b"/>
<rect x="84" y="-10.6" width="14" height="3.2" fill="#1d1d1b"/>
<path d="M0 -7 L0 -18 L4.4 -26.5 Q4.8 -27.2 5.6 -27.2 L15.4 -27.2 L15.4 -6.8 L1 -6.8 Z" fill="#1d1d1b"/>
<path d="M2.4 -18.6 L5.8 -25.5 L7.6 -25.5 L7.6 -18.6 Z" fill="#8f8d89"/>
<rect x="9.4" y="-25.5" width="4.2" height="6.9" fill="#8f8d89"/>
<rect x="-0.6" y="-8.2" width="2.4" height="2" fill="#1d1d1b"/>
<path d="M21.6 -29 L96.4 -29 Q99.8 -29 99.8 -25.6 L99.8 -13.6 Q99.8 -10.4 96.4 -10.4 L51.5 -10.4 L42.5 -14 L21.6 -14 Q18.2 -14 18.2 -17.4 L18.2 -25.6 Q18.2 -29 21.6 -29 Z" fill="#ffffff" stroke="#2a2a2a" stroke-width="0.6"/>
<rect x="19.5" y="-20.8" width="79" height="1.3" fill="#c9c8c5"/>
<circle cx="10.5" cy="-4.1" r="4.3" fill="#1d1d1b"/><circle cx="10.5" cy="-4.1" r="2.3" fill="#ffffff"/>
<circle cx="25.9" cy="-4.1" r="4.3" fill="#1d1d1b"/><circle cx="25.9" cy="-4.1" r="2.3" fill="#ffffff"/>
<circle cx="36.1" cy="-4.1" r="4.3" fill="#1d1d1b"/><circle cx="36.1" cy="-4.1" r="2.3" fill="#ffffff"/>
<circle cx="80.5" cy="-4.1" r="4.3" fill="#1d1d1b"/><circle cx="80.5" cy="-4.1" r="2.3" fill="#ffffff"/>
<circle cx="91" cy="-4.1" r="4.3" fill="#1d1d1b"/><circle cx="91" cy="-4.1" r="2.3" fill="#ffffff"/>
</g>
<polyline points="217.1,523 304.1,567.6 304.1,572.3" fill="none" stroke="#ffffff" stroke-width="2.4"/>
<g transform="translate(0 0)"><rect x="704.8" y="333.8" width="21.6" height="112" fill="#1d1d1b"/><rect x="700.6" y="333.8" width="6" height="5" fill="#1d1d1b"/><rect x="700.6" y="359.5" width="6" height="5" fill="#1d1d1b"/><rect x="700.6" y="384.4" width="6" height="5" fill="#1d1d1b"/><rect x="700.6" y="409.4" width="6" height="5" fill="#1d1d1b"/><line x1="707" y1="339.5" x2="707" y2="444.5" stroke="#c9c7c3" stroke-width="1.9" stroke-dasharray="1.9 1.2"/><rect x="736.3" y="299.5" width="7.5" height="146" fill="#1d1d1b"/><rect x="751.3" y="299.5" width="6.8" height="146" fill="#1d1d1b"/><rect x="736.3" y="289.5" width="1.1" height="11" fill="#1d1d1b"/><rect x="751.3" y="289.5" width="1.1" height="11" fill="#1d1d1b"/><rect x="743" y="334.5" width="9" height="111" fill="#1d1d1b"/><rect x="745" y="336" width="5" height="6.5" fill="#aeaba6"/><rect x="745" y="345" width="5" height="11" fill="#aeaba6"/><rect x="745" y="361" width="5" height="11.5" fill="#aeaba6"/><rect x="745" y="377.5" width="5" height="19.5" fill="#aeaba6"/><rect x="745.3" y="382" width="4.4" height="5" fill="#8f8d89"/><rect x="725.5" y="392.5" width="12" height="53" fill="#1d1d1b"/><path d="M727.5 392.5 V372 Q727.5 368.8 730.5 368.8 H733.5" fill="none" stroke="#1d1d1b" stroke-width="1.3"/><path d="M729.8 392.5 V374 Q729.8 371.3 732 371.3 H733.8" fill="none" stroke="#1d1d1b" stroke-width="0.9"/><line x1="732" y1="373" x2="732" y2="392.5" stroke="#1d1d1b" stroke-width="0.9"/><rect x="726.3" y="396.3" width="1.7" height="3.1" fill="#b5b3af"/><rect x="729.4" y="396.3" width="1.2" height="3.1" fill="#b5b3af"/><rect x="732.5" y="396.3" width="2.5" height="3.1" fill="#b5b3af"/><rect x="726.3" y="403" width="1.7" height="3.3" fill="#b5b3af"/><rect x="729.4" y="403" width="1.2" height="3.3" fill="#b5b3af"/><rect x="732.5" y="403" width="2.5" height="3.3" fill="#b5b3af"/><rect x="726.3" y="412.5" width="1.7" height="3.8" fill="#b5b3af"/><rect x="729.4" y="412.5" width="1.2" height="3.8" fill="#b5b3af"/><rect x="732.5" y="412.5" width="2.5" height="3.8" fill="#b5b3af"/><rect x="742.5" y="412.5" width="21.3" height="33" fill="#1d1d1b"/><rect x="758" y="399.8" width="8.3" height="1.3" fill="#1d1d1b"/><rect x="758" y="403.5" width="8.3" height="1.3" fill="#1d1d1b"/></g>
<g transform="translate(75 0)"><rect x="704.8" y="333.8" width="21.6" height="112" fill="#1d1d1b"/><rect x="700.6" y="333.8" width="6" height="5" fill="#1d1d1b"/><rect x="700.6" y="359.5" width="6" height="5" fill="#1d1d1b"/><rect x="700.6" y="384.4" width="6" height="5" fill="#1d1d1b"/><rect x="700.6" y="409.4" width="6" height="5" fill="#1d1d1b"/><line x1="707" y1="339.5" x2="707" y2="444.5" stroke="#c9c7c3" stroke-width="1.9" stroke-dasharray="1.9 1.2"/><rect x="736.3" y="299.5" width="7.5" height="146" fill="#1d1d1b"/><rect x="751.3" y="299.5" width="6.8" height="146" fill="#1d1d1b"/><rect x="736.3" y="289.5" width="1.1" height="11" fill="#1d1d1b"/><rect x="751.3" y="289.5" width="1.1" height="11" fill="#1d1d1b"/><rect x="743" y="334.5" width="9" height="111" fill="#1d1d1b"/><rect x="745" y="336" width="5" height="6.5" fill="#aeaba6"/><rect x="745" y="345" width="5" height="11" fill="#aeaba6"/><rect x="745" y="361" width="5" height="11.5" fill="#aeaba6"/><rect x="745" y="377.5" width="5" height="19.5" fill="#aeaba6"/><rect x="745.3" y="382" width="4.4" height="5" fill="#8f8d89"/><rect x="725.5" y="392.5" width="12" height="53" fill="#1d1d1b"/><path d="M727.5 392.5 V372 Q727.5 368.8 730.5 368.8 H733.5" fill="none" stroke="#1d1d1b" stroke-width="1.3"/><path d="M729.8 392.5 V374 Q729.8 371.3 732 371.3 H733.8" fill="none" stroke="#1d1d1b" stroke-width="0.9"/><line x1="732" y1="373" x2="732" y2="392.5" stroke="#1d1d1b" stroke-width="0.9"/><rect x="726.3" y="396.3" width="1.7" height="3.1" fill="#b5b3af"/><rect x="729.4" y="396.3" width="1.2" height="3.1" fill="#b5b3af"/><rect x="732.5" y="396.3" width="2.5" height="3.1" fill="#b5b3af"/><rect x="726.3" y="403" width="1.7" height="3.3" fill="#b5b3af"/><rect x="729.4" y="403" width="1.2" height="3.3" fill="#b5b3af"/><rect x="732.5" y="403" width="2.5" height="3.3" fill="#b5b3af"/><rect x="726.3" y="412.5" width="1.7" height="3.8" fill="#b5b3af"/><rect x="729.4" y="412.5" width="1.2" height="3.8" fill="#b5b3af"/><rect x="732.5" y="412.5" width="2.5" height="3.8" fill="#b5b3af"/><rect x="742.5" y="412.5" width="21.3" height="33" fill="#1d1d1b"/><rect x="758" y="399.8" width="8.3" height="1.3" fill="#1d1d1b"/><rect x="758" y="403.5" width="8.3" height="1.3" fill="#1d1d1b"/></g>
<rect x="691.3" y="445" width="265.7" height="8" fill="#1d1d1b"/>
<rect x="843" y="400" width="15" height="40" rx="7.5" fill="#1d1d1b"/>
<rect x="849.3" y="396.8" width="2.4" height="5" fill="#1d1d1b"/>
<rect x="849.5" y="438" width="2" height="8" fill="#1d1d1b"/>
<rect x="865" y="400" width="14.5" height="40" rx="7.25" fill="#1d1d1b"/>
<rect x="871.05" y="396.8" width="2.4" height="5" fill="#1d1d1b"/>
<rect x="871.25" y="438" width="2" height="8" fill="#1d1d1b"/>
<rect x="886.3" y="400" width="15" height="40" rx="7.5" fill="#1d1d1b"/>
<rect x="892.6" y="396.8" width="2.4" height="5" fill="#1d1d1b"/>
<rect x="892.8" y="438" width="2" height="8" fill="#1d1d1b"/>
<path d="M853.8 401 V397.5 H931 V401" fill="none" stroke="#1d1d1b" stroke-width="1.1"/>
<line x1="840.5" y1="402" x2="840.5" y2="445" stroke="#1d1d1b" stroke-width="0.9"/>
<line x1="861.5" y1="399" x2="861.5" y2="445" stroke="#1d1d1b" stroke-width="0.9"/>
<line x1="883" y1="399" x2="883" y2="445" stroke="#1d1d1b" stroke-width="0.9"/>
<line x1="904.2" y1="399" x2="904.2" y2="445" stroke="#1d1d1b" stroke-width="0.9"/>
<line x1="838" y1="401.5" x2="844" y2="401.5" stroke="#1d1d1b" stroke-width="0.9"/>
<line x1="838" y1="405" x2="844" y2="405" stroke="#1d1d1b" stroke-width="0.9"/>
<line x1="838" y1="411" x2="844" y2="411" stroke="#1d1d1b" stroke-width="0.9"/>
<circle cx="927.5" cy="424.5" r="20.2" fill="#1d1d1b"/>
<rect x="921.5" y="398.6" width="12" height="7" fill="#1d1d1b"/>
<rect x="906" y="421" width="43" height="6.5" rx="1" fill="#1d1d1b"/>
<line x1="922" y1="400.3" x2="933" y2="400.3" stroke="#8f8d89" stroke-width="0.6" stroke-dasharray="1 1"/>
<path d="M1033.3 21.3 L1075 21.3 Q1068.5 50 1072.5 68 Q1076 92 1080.7 116.1 L1028 116.1 Q1033 92 1036.3 68 Q1040 50 1033.3 21.3 Z" fill="#1d1d1b"/>
<path d="M1094 116.1 V71 Q1094 57 1110 57 H1121.6 Q1137.6 57 1137.6 71 V116.1 Z" fill="#1d1d1b"/>
<rect x="1091.2" y="70" width="49.2" height="2" fill="#1d1d1b"/>
<path d="M1077 104 L1086 91.1 H1095" fill="none" stroke="#1d1d1b" stroke-width="3.2"/>
<path d="M1137 81 H1154.2 M1144.1 81 V96 M1153.4 80.2 V96" fill="none" stroke="#1d1d1b" stroke-width="1.7"/>
<path d="M1141.7 116.1 V97.5 Q1141.7 95.2 1144.3 95.2 Q1147 95.2 1147 97.5 V116.1 Z M1151.3 116.1 V97.5 Q1151.3 95.2 1154 95.2 Q1156.7 95.2 1156.7 97.5 V116.1 Z" fill="#1d1d1b"/>
<path d="M926.4 76.7 L928.2 72.9 L930 76.7 M926.9 76.7 L926.9 80.4 L923.85 94.9 M929.5 76.7 L929.5 80.4 L932.55 94.9 M921.05 76.7 H935.35 M921.05 80.4 H935.35 M922.05 76.7 L928.2 74.23 L934.35 76.7 M922.05 80.4 L928.2 77.44 L934.35 80.4 M926.9 76.7 L929.5 80.4 M929.5 76.7 L926.9 80.4 M926.9 80.4 L930.52 85.23 M929.5 80.4 L925.88 85.23 M925.88 85.23 H930.52 M925.88 85.23 L931.54 90.07 M930.52 85.23 L924.87 90.07 M924.87 90.07 H931.54 M924.87 90.07 L932.55 94.9 M931.54 90.07 L923.85 94.9 M923.85 94.9 H932.55" fill="none" stroke="#7b7975" stroke-width="0.8" stroke-linejoin="round"/>
<path d="M958.53 76.1 L961 70.5 L963.47 76.1 M959.03 76.1 L959.03 81.9 L954.45 104.5 M962.97 76.1 L962.97 81.9 L967.55 104.5 M949.75 76.1 H972.25 M949.75 81.9 H972.25 M950.75 76.1 L961 72.46 L971.25 76.1 M950.75 81.9 L961 77.26 L971.25 81.9 M959.03 76.1 L962.97 81.9 M962.97 76.1 L959.03 81.9 M959.03 81.9 L964.49 89.43 M962.97 81.9 L957.51 89.43 M957.51 89.43 H964.49 M957.51 89.43 L966.02 96.97 M964.49 89.43 L955.98 96.97 M955.98 96.97 H966.02 M955.98 96.97 L967.55 104.5 M966.02 96.97 L954.45 104.5 M954.45 104.5 H967.55" fill="none" stroke="#7b7975" stroke-width="1.0" stroke-linejoin="round"/>
<path d="M995.06 73.8 L998.6 64.5 L1002.14 73.8 M995.56 73.8 L995.56 81.9 L988.45 116.2 M1001.64 73.8 L1001.64 81.9 L1008.75 116.2 M981.4 73.8 H1015.8 M981.4 81.9 H1015.8 M982.4 73.8 L998.6 67.75 L1014.8 73.8 M982.4 81.9 L998.6 75.42 L1014.8 81.9 M995.56 73.8 L1001.64 81.9 M1001.64 73.8 L995.56 81.9 M995.56 81.9 L1004.01 93.33 M1001.64 81.9 L993.19 93.33 M993.19 93.33 H1004.01 M993.19 93.33 L1006.38 104.77 M1004.01 93.33 L990.82 104.77 M990.82 104.77 H1006.38 M990.82 104.77 L1008.75 116.2 M1006.38 104.77 L988.45 116.2 M988.45 116.2 H1008.75" fill="none" stroke="#1d1d1b" stroke-width="2.0" stroke-linejoin="round"/>
<polyline points="1365.4,59.8 1400,71 1356,85.1 1444.5,107" fill="none" stroke="#149de0" stroke-width="8.6" stroke-linecap="round" stroke-linejoin="round"/>
<path d="M1440.1 24.5 A14.55 5.5 0 0 1 1469.2 24.5 V71.8 A14.55 5.5 0 0 1 1440.1 71.8 Z" fill="#1d1d1b"/>
<path d="M1443 71 V27.5 Q1443 23 1453 21.5" fill="none" stroke="#f0efec" stroke-width="0.8"/>
<polyline points="1454.6,77 1454.6,85.1 1482.7,92.3" fill="none" stroke="#ffffff" stroke-width="2.1"/>
<rect x="1442.3" y="93.9" width="194" height="19.8" fill="#1d1d1b"/>
<rect x="1447" y="95.6" width="58.3" height="14.7" fill="#149de0"/>
<rect x="1447" y="93.5" width="58.3" height="2.2" fill="#aeaba6"/>
<path d="M1447 96.6 C1458.66 95.3 1464.49 99.46 1479.07 98.68 C1492.47 97.9 1496.56 95.3 1505.3 95.82" fill="none" stroke="#ffffff" stroke-width="0.7"/>
<path d="M1447 98.1 C1458.66 96.8 1464.49 100.96 1479.07 100.18 C1492.47 99.4 1496.56 96.8 1505.3 97.32" fill="none" stroke="#ffffff" stroke-width="0.7"/>
<rect x="1510.5" y="95.6" width="57.7" height="14.7" fill="#149de0"/>
<rect x="1510.5" y="93.5" width="57.7" height="2.2" fill="#aeaba6"/>
<path d="M1510.5 96.6 C1522.04 95.3 1527.81 99.46 1542.24 98.68 C1555.51 97.9 1559.55 95.3 1568.2 95.82" fill="none" stroke="#ffffff" stroke-width="0.7"/>
<path d="M1510.5 98.1 C1522.04 96.8 1527.81 100.96 1542.24 100.18 C1555.51 99.4 1559.55 96.8 1568.2 97.32" fill="none" stroke="#ffffff" stroke-width="0.7"/>
<rect x="1573.4" y="95.6" width="57.7" height="14.7" fill="#149de0"/>
<rect x="1573.4" y="93.5" width="57.7" height="2.2" fill="#aeaba6"/>
<path d="M1573.4 96.6 C1584.94 95.3 1590.71 99.46 1605.13 98.68 C1618.41 97.9 1622.44 95.3 1631.1 95.82" fill="none" stroke="#ffffff" stroke-width="0.7"/>
<path d="M1573.4 98.1 C1584.94 96.8 1590.71 100.96 1605.13 100.18 C1618.41 99.4 1622.44 96.8 1631.1 97.32" fill="none" stroke="#ffffff" stroke-width="0.7"/>
<polyline points="1729.4,81 1729.4,94.5 1636.3,101.1" fill="none" stroke="#ffffff" stroke-width="2.1"/>
<polygon points="1672.25,81.99 1672.25,32.69 1675.7,32.69 1675.7,21.74 1682.43,21.74 1682.43,25.34 1685.09,25.34 1685.09,41.77 1691.5,41.77 1691.5,56.48 1698.08,56.48 1698.08,40.83 1703.55,40.83 1703.55,48.81 1709.34,48.81 1709.34,33.16 1712.94,33.16 1712.94,24.08 1718.89,24.08 1718.89,35.82 1723.9,35.82 1723.9,33.16 1730.94,33.16 1730.94,53.04 1737.98,53.04 1737.98,42.86 1745.02,42.86 1745.02,62.43 1752.85,53.51 1761.46,62.43 1768.5,53.51 1777.1,62.43 1785.24,53.51 1793.54,62.9 1796.67,62.9 1796.67,81.99" fill="#1d1d1b"/>
<rect x="1674.23" y="34.37" width="2.3" height="2.9" fill="#ffffff"/>
<rect x="1677.83" y="34.37" width="2.3" height="2.9" fill="#ffffff"/>
<rect x="1710.7" y="34.37" width="2.3" height="2.9" fill="#ffffff"/>
<rect x="1714.45" y="34.37" width="2.3" height="2.9" fill="#ffffff"/>
<rect x="1727.44" y="34.37" width="2.3" height="2.9" fill="#ffffff"/>
<rect x="1714.45" y="28.89" width="2.3" height="2.9" fill="#ffffff"/>
<rect x="1674.23" y="39.85" width="2.3" height="2.9" fill="#ffffff"/>
<rect x="1677.83" y="39.85" width="2.3" height="2.9" fill="#ffffff"/>
<rect x="1710.7" y="39.85" width="2.3" height="2.9" fill="#ffffff"/>
<rect x="1714.45" y="39.85" width="2.3" height="2.9" fill="#ffffff"/>
<rect x="1727.44" y="39.85" width="2.3" height="2.9" fill="#ffffff"/>
<rect x="1674.23" y="45.33" width="2.3" height="2.9" fill="#ffffff"/>
<rect x="1677.83" y="45.33" width="2.3" height="2.9" fill="#ffffff"/>
<rect x="1685.19" y="45.33" width="2.3" height="2.9" fill="#ffffff"/>
<rect x="1699.27" y="45.33" width="2.3" height="2.9" fill="#ffffff"/>
<rect x="1727.44" y="45.33" width="2.3" height="2.9" fill="#ffffff"/>
<rect x="1741.06" y="45.33" width="2.3" height="2.9" fill="#ffffff"/>
<rect x="1677.83" y="50.02" width="2.3" height="2.9" fill="#ffffff"/>
<rect x="1714.45" y="50.02" width="2.3" height="2.9" fill="#ffffff"/>
<rect x="1714.45" y="54.72" width="2.3" height="2.9" fill="#ffffff"/>
<rect x="1727.44" y="54.72" width="2.3" height="2.9" fill="#ffffff"/>
<rect x="1732.14" y="54.72" width="2.3" height="2.9" fill="#ffffff"/>
<rect x="1736.05" y="54.72" width="2.3" height="2.9" fill="#ffffff"/>
<rect x="1674.23" y="58.94" width="2.3" height="2.9" fill="#ffffff"/>
<rect x="1677.83" y="58.94" width="2.3" height="2.9" fill="#ffffff"/>
<rect x="1681.59" y="58.94" width="2.3" height="2.9" fill="#ffffff"/>
<rect x="1685.19" y="58.94" width="2.3" height="2.9" fill="#ffffff"/>
<rect x="1691.92" y="58.94" width="2.3" height="2.9" fill="#ffffff"/>
<rect x="1695.67" y="58.94" width="2.3" height="2.9" fill="#ffffff"/>
<rect x="1699.27" y="58.94" width="2.3" height="2.9" fill="#ffffff"/>
<rect x="1749.35" y="63.32" width="2.3" height="2.9" fill="#ffffff"/>
<rect x="1754.05" y="63.32" width="2.3" height="2.9" fill="#ffffff"/>
<rect x="1766.1" y="63.32" width="2.3" height="2.9" fill="#ffffff"/>
<rect x="1770.48" y="63.32" width="2.3" height="2.9" fill="#ffffff"/>
<rect x="1781.9" y="63.32" width="2.3" height="2.9" fill="#ffffff"/>
<rect x="1786.44" y="63.32" width="2.3" height="2.9" fill="#ffffff"/>
<rect x="1674.23" y="66.77" width="2.3" height="2.9" fill="#ffffff"/>
<rect x="1677.83" y="66.77" width="2.3" height="2.9" fill="#ffffff"/>
<rect x="1681.59" y="66.77" width="2.3" height="2.9" fill="#ffffff"/>
<rect x="1685.19" y="66.77" width="2.3" height="2.9" fill="#ffffff"/>
<rect x="1695.67" y="66.77" width="2.3" height="2.9" fill="#ffffff"/>
<rect x="1699.27" y="66.77" width="2.3" height="2.9" fill="#ffffff"/>
<rect x="1710.7" y="66.77" width="2.3" height="2.9" fill="#ffffff"/>
<rect x="1714.45" y="66.77" width="2.3" height="2.9" fill="#ffffff"/>
<rect x="1718.05" y="66.77" width="2.3" height="2.9" fill="#ffffff"/>
<rect x="1721.96" y="66.77" width="2.3" height="2.9" fill="#ffffff"/>
<rect x="1736.05" y="66.77" width="2.3" height="2.9" fill="#ffffff"/>
<rect x="1786.44" y="68.8" width="2.3" height="2.9" fill="#ffffff"/>
<rect x="1674.23" y="74.59" width="2.3" height="2.9" fill="#ffffff"/>
<rect x="1677.83" y="74.59" width="2.3" height="2.9" fill="#ffffff"/>
<rect x="1681.59" y="74.59" width="2.3" height="2.9" fill="#ffffff"/>
<rect x="1685.19" y="74.59" width="2.3" height="2.9" fill="#ffffff"/>
<rect x="1695.67" y="74.59" width="2.3" height="2.9" fill="#ffffff"/>
<rect x="1710.7" y="74.59" width="2.3" height="2.9" fill="#ffffff"/>
<rect x="1714.45" y="74.59" width="2.3" height="2.9" fill="#ffffff"/>
<rect x="1718.05" y="74.59" width="2.3" height="2.9" fill="#ffffff"/>
<rect x="1721.96" y="74.59" width="2.3" height="2.9" fill="#ffffff"/>
<rect x="1728.54" y="74.59" width="2.3" height="2.9" fill="#ffffff"/>
<rect x="1732.14" y="74.59" width="2.3" height="2.9" fill="#ffffff"/>
<rect x="1736.05" y="74.59" width="2.3" height="2.9" fill="#ffffff"/>
<rect x="1749.35" y="74.59" width="2.3" height="2.9" fill="#ffffff"/>
<rect x="1754.05" y="74.59" width="2.3" height="2.9" fill="#ffffff"/>
<rect x="1770.48" y="74.59" width="2.3" height="2.9" fill="#ffffff"/>
<rect x="1786.44" y="74.59" width="2.3" height="2.9" fill="#ffffff"/>
<g transform="translate(1489.4 200.6) scale(0.61)"><polygon points="0,0 0,-13.6 4,-14.5 6.5,-20.5 10,-22.5 14,-21 16.5,-25 17,-29 24,-28.5 25.5,-24 30,-21.5 33.5,-24.5 39,-27 40.5,-25.5 36,-18.5 33,-13.6 60.3,-13.6 60.3,0" fill="#5b5a58"/><polygon points="24.3,-7.8 30.1,-7.8 26.6,-17.2" fill="#c9c7c3"/><path d="M4.7 -18 Q8 -27 17.5 -29.5" fill="none" stroke="#5b5a58" stroke-width="0.7"/><path d="M47.7 -51.6 L39.9 -12.5 M47.7 -51.6 L58.7 -12.5 M46.2 -47 L44.5 -12.5 M49.3 -47 L53 -12.5" fill="none" stroke="#5b5a58" stroke-width="1.3"/><path d="M45.6 -41 H50.8 M44.3 -34 H52.8 M43 -27 H54.8 M41.6 -20 H56.7 M44 -41 L53 -34 M52 -34 L43 -27 M43 -27 L55 -20" fill="none" stroke="#5b5a58" stroke-width="0.7"/><circle cx="47.7" cy="-52" r="2.3" fill="#5b5a58"/><polygon points="22.5,-53.5 69.7,-65.6 70.5,-60 23.5,-47.6" fill="#5b5a58"/><rect x="23" y="-50" width="4.5" height="9.5" fill="#5b5a58"/><line x1="25.8" y1="-41" x2="31.3" y2="-22.7" stroke="#5b5a58" stroke-width="3.6"/><line x1="25.9" y1="-40" x2="31.1" y2="-23.5" stroke="#d5d3cf" stroke-width="2"/><path d="M72 -74.6 Q85 -59 79.1 -43.8 L68 -59 Z" fill="#5b5a58"/><path d="M73 -69.5 Q77.4 -64.5 78.7 -60.8 L72.3 -62.2 Z M79.2 -58 Q79.8 -53 78.4 -48.5 L72.6 -58.6 Z" fill="#aeaba6"/><line x1="79.1" y1="-44" x2="79.1" y2="-1" stroke="#5b5a58" stroke-width="0.8"/><polygon points="76.2,0 82,0 79.8,-4 79.8,-10 78.4,-10 78.4,-4" fill="#5b5a58"/></g>
<g transform="translate(1544.2 214.6) scale(0.81)"><polygon points="0,0 0,-13.6 4,-14.5 6.5,-20.5 10,-22.5 14,-21 16.5,-25 17,-29 24,-28.5 25.5,-24 30,-21.5 33.5,-24.5 39,-27 40.5,-25.5 36,-18.5 33,-13.6 60.3,-13.6 60.3,0" fill="#5b5a58"/><polygon points="24.3,-7.8 30.1,-7.8 26.6,-17.2" fill="#c9c7c3"/><path d="M4.7 -18 Q8 -27 17.5 -29.5" fill="none" stroke="#5b5a58" stroke-width="0.7"/><path d="M47.7 -51.6 L39.9 -12.5 M47.7 -51.6 L58.7 -12.5 M46.2 -47 L44.5 -12.5 M49.3 -47 L53 -12.5" fill="none" stroke="#5b5a58" stroke-width="1.3"/><path d="M45.6 -41 H50.8 M44.3 -34 H52.8 M43 -27 H54.8 M41.6 -20 H56.7 M44 -41 L53 -34 M52 -34 L43 -27 M43 -27 L55 -20" fill="none" stroke="#5b5a58" stroke-width="0.7"/><circle cx="47.7" cy="-52" r="2.3" fill="#5b5a58"/><polygon points="22.5,-53.5 69.7,-65.6 70.5,-60 23.5,-47.6" fill="#5b5a58"/><rect x="23" y="-50" width="4.5" height="9.5" fill="#5b5a58"/><line x1="25.8" y1="-41" x2="31.3" y2="-22.7" stroke="#5b5a58" stroke-width="3.6"/><line x1="25.9" y1="-40" x2="31.1" y2="-23.5" stroke="#d5d3cf" stroke-width="2"/><path d="M72 -74.6 Q85 -59 79.1 -43.8 L68 -59 Z" fill="#5b5a58"/><path d="M73 -69.5 Q77.4 -64.5 78.7 -60.8 L72.3 -62.2 Z M79.2 -58 Q79.8 -53 78.4 -48.5 L72.6 -58.6 Z" fill="#aeaba6"/><line x1="79.1" y1="-44" x2="79.1" y2="-1" stroke="#5b5a58" stroke-width="0.8"/><polygon points="76.2,0 82,0 79.8,-4 79.8,-10 78.4,-10 78.4,-4" fill="#5b5a58"/></g>
<g transform="translate(1608.3 233.4) scale(1)"><polygon points="0,0 0,-13.6 4,-14.5 6.5,-20.5 10,-22.5 14,-21 16.5,-25 17,-29 24,-28.5 25.5,-24 30,-21.5 33.5,-24.5 39,-27 40.5,-25.5 36,-18.5 33,-13.6 60.3,-13.6 60.3,0" fill="#1d1d1b"/><polygon points="24.3,-7.8 30.1,-7.8 26.6,-17.2" fill="#c9c7c3"/><path d="M4.7 -18 Q8 -27 17.5 -29.5" fill="none" stroke="#1d1d1b" stroke-width="0.7"/><path d="M47.7 -51.6 L39.9 -12.5 M47.7 -51.6 L58.7 -12.5 M46.2 -47 L44.5 -12.5 M49.3 -47 L53 -12.5" fill="none" stroke="#1d1d1b" stroke-width="1.3"/><path d="M45.6 -41 H50.8 M44.3 -34 H52.8 M43 -27 H54.8 M41.6 -20 H56.7 M44 -41 L53 -34 M52 -34 L43 -27 M43 -27 L55 -20" fill="none" stroke="#1d1d1b" stroke-width="0.7"/><circle cx="47.7" cy="-52" r="2.3" fill="#1d1d1b"/><polygon points="22.5,-53.5 69.7,-65.6 70.5,-60 23.5,-47.6" fill="#1d1d1b"/><rect x="23" y="-50" width="4.5" height="9.5" fill="#1d1d1b"/><line x1="25.8" y1="-41" x2="31.3" y2="-22.7" stroke="#1d1d1b" stroke-width="3.6"/><line x1="25.9" y1="-40" x2="31.1" y2="-23.5" stroke="#d5d3cf" stroke-width="2"/><path d="M72 -74.6 Q85 -59 79.1 -43.8 L68 -59 Z" fill="#1d1d1b"/><path d="M73 -69.5 Q77.4 -64.5 78.7 -60.8 L72.3 -62.2 Z M79.2 -58 Q79.8 -53 78.4 -48.5 L72.6 -58.6 Z" fill="#aeaba6"/><line x1="79.1" y1="-44" x2="79.1" y2="-1" stroke="#1d1d1b" stroke-width="0.8"/><polygon points="76.2,0 82,0 79.8,-4 79.8,-10 78.4,-10 78.4,-4" fill="#1d1d1b"/></g>
<polyline points="1902,174.5 1902,169.7 1908.3,169.7 1908.3,163.3 1914.7,163.3 1914.7,157 1921.2,157 1921.2,150.6 1928,150.6" fill="none" stroke="#1d1d1b" stroke-width="1.2"/>
<path d="M1928 146.7 H1932.5 V172.9 H2089.2 V147.3 H2093.8 V176.7 H1928 Z" fill="#1d1d1b"/>
<path d="M1932.5 152.2 Q1970 150.5 2008 152.8 L2012 153.2 Q2050 155.5 2089.2 151 V172.9 H1932.5 Z" fill="#149de0"/>
<path d="M1933 153.6 Q1970 151.5 2008 154.2 M1933 155 Q1970 152.8 2008 155.8 M2013 154.5 Q2055 157.5 2088.5 152.2 M2013 156 Q2055 159.3 2088.5 153.8" fill="none" stroke="#ffffff" stroke-width="0.7"/>
<rect x="2008.6" y="146" width="3.6" height="27" fill="#1d1d1b"/>
<polygon points="2003,131 2018.7,131 2015.6,146.7 2006.3,146.7" fill="#1d1d1b"/>
<path d="M1928 137.6 H2005.3 M1928 142 H2005.3 M1928 146.4 H2005.3 M1928.4 137.3 V146.7 M1933.5 137.3 V146.7 M1938.6 137.3 V146.7 M1943.7 137.3 V146.7 M1948.8 137.3 V146.7 M1953.9 137.3 V146.7 M1959 137.3 V146.7 M1964.1 137.3 V146.7 M1969.2 137.3 V146.7 M1974.3 137.3 V146.7 M1979.4 137.3 V146.7 M1984.5 137.3 V146.7 M1989.6 137.3 V146.7 M1994.7 137.3 V146.7 M1999.8 137.3 V146.7 M2004.9 137.3 V146.7" fill="none" stroke="#1d1d1b" stroke-width="0.9"/>
<path d="M2118.7 119 V126.5 L2169.5 138.2 V130" fill="none" stroke="#ffffff" stroke-width="1.8"/>
<line x1="2144.5" y1="133.2" x2="2093.6" y2="155.1" stroke="#ffffff" stroke-width="1.8"/>
<polygon points="2103,119.5 2109.8,119.5 2108.8,123.8 2104,123.8" fill="#5a5957"/><polygon points="2134.8,119.5 2140.6,119.5 2139.6,123.8 2135.8,123.8" fill="#5a5957"/>
<rect x="2089" y="88.6" width="64.9" height="31.3" rx="12" fill="#5a5957"/>
<rect x="2095.7" y="94.9" width="51.9" height="3.7" rx="1.8" fill="#ffffff"/>
<polygon points="2153.9,130.5 2160.9,130.5 2159.9,134.8 2154.9,134.8" fill="#5a5957" stroke="#ffffff" stroke-width="0.7"/><polygon points="2186,130.5 2193,130.5 2192,134.8 2187,134.8" fill="#5a5957" stroke="#ffffff" stroke-width="0.7"/>
<rect x="2139.8" y="99.1" width="66.5" height="31.8" rx="12" fill="#5a5957" stroke="#ffffff" stroke-width="0.9"/>
<rect x="2146.9" y="106.3" width="52.1" height="3.7" rx="1.8" fill="#ffffff"/>
<polygon points="2367.5,172 2440,230.3 2295.5,230.3" fill="#5c5b59"/>
<polygon points="2440.8,242 2513.2,299.3 2369.6,299.3" fill="#5c5b59"/>
<path d="M2372.2 150 Q2369 158 2367.8 173" fill="none" stroke="#5c5b59" stroke-width="2"/>
<rect x="2477.4" y="179.2" width="61.1" height="52.2" fill="#1d1d1b"/>
<rect x="2510.7" y="161" width="12.1" height="19" fill="#1d1d1b"/>
<path d="M2478.4 169.8 H2538.5 M2478.4 173.9 H2538.5 M2478.8 169.4 V179.5 M2484.75 169.4 V179.5 M2490.7 169.4 V179.5 M2496.65 169.4 V179.5 M2502.6 169.4 V179.5 M2508.55 169.4 V179.5 M2514.5 169.4 V179.5 M2520.45 169.4 V179.5 M2526.4 169.4 V179.5 M2532.35 169.4 V179.5 M2538.3 169.4 V179.5" fill="none" stroke="#1d1d1b" stroke-width="1.1"/>
<rect x="2496.3" y="126" width="5.4" height="4.5" fill="#1d1d1b"/>
<path d="M2496.6 129.7 L2488.8 179.2 M2501.3 129.7 L2506.8 179.2 M2502.5 130 L2521.4 161.5" fill="none" stroke="#1d1d1b" stroke-width="2.4"/>
<path d="M2495.5 140 L2503 152 M2502.4 140 L2493.5 152 M2493.5 152 L2505 167 M2503.4 152 L2491.3 167 M2493.5 152 H2503.6 M2495.4 140 H2502.4 M2503.8 138 L2516 161" fill="none" stroke="#1d1d1b" stroke-width="1"/>
<path d="M2495.5 130.2 L2423.6 156.6 M2496 132 L2425.5 158.2" fill="none" stroke="#1d1d1b" stroke-width="0.9"/>
<polygon points="2373.7,141 2479.4,178.6 2479.4,189.2 2371.5,150.5" fill="#1d1d1b"/>
<line x1="2374.5" y1="148.3" x2="2478" y2="185.2" stroke="#c9c7c3" stroke-width="1.6" stroke-dasharray="3.4 1.4"/>
<rect x="1180.3" y="536" width="86.7" height="59.3" fill="#1d1d1b"/>
<rect x="1177.7" y="529.3" width="91.6" height="7.7" fill="#1d1d1b"/>
<path d="M1190.9 530 V511 H1192.1 V496.3 Q1192.1 494.3 1194.1 494.3 H1203.3 Q1205.3 494.3 1205.3 496.3 V511 H1207.1 V530 Z" fill="#1d1d1b"/>
<rect x="1190.4" y="497" width="16.6" height="1.5" fill="#1d1d1b"/>
<rect x="1190.4" y="500" width="16.6" height="1.5" fill="#1d1d1b"/>
<rect x="1190.4" y="503" width="16.6" height="1.5" fill="#1d1d1b"/>
<rect x="1190.4" y="506" width="16.6" height="1.5" fill="#1d1d1b"/>
<rect x="1190.4" y="509" width="16.6" height="1.5" fill="#1d1d1b"/>
<rect x="1186.4" y="512.2" width="5" height="1.5" fill="#1d1d1b"/>
<rect x="1186.4" y="515.2" width="5" height="1.5" fill="#1d1d1b"/>
<rect x="1186.4" y="518.2" width="5" height="1.5" fill="#1d1d1b"/>
<rect x="1186.4" y="521.2" width="5" height="1.5" fill="#1d1d1b"/>
<rect x="1186.4" y="524.2" width="5" height="1.5" fill="#1d1d1b"/>
<path d="M1215.2 530 V511 H1216.4 V496.3 Q1216.4 494.3 1218.4 494.3 H1227.6 Q1229.6 494.3 1229.6 496.3 V511 H1231.4 V530 Z" fill="#1d1d1b"/>
<rect x="1214.7" y="497" width="16.6" height="1.5" fill="#1d1d1b"/>
<rect x="1214.7" y="500" width="16.6" height="1.5" fill="#1d1d1b"/>
<rect x="1214.7" y="503" width="16.6" height="1.5" fill="#1d1d1b"/>
<rect x="1214.7" y="506" width="16.6" height="1.5" fill="#1d1d1b"/>
<rect x="1214.7" y="509" width="16.6" height="1.5" fill="#1d1d1b"/>
<rect x="1210.7" y="512.2" width="5" height="1.5" fill="#1d1d1b"/>
<rect x="1210.7" y="515.2" width="5" height="1.5" fill="#1d1d1b"/>
<rect x="1210.7" y="518.2" width="5" height="1.5" fill="#1d1d1b"/>
<rect x="1210.7" y="521.2" width="5" height="1.5" fill="#1d1d1b"/>
<rect x="1210.7" y="524.2" width="5" height="1.5" fill="#1d1d1b"/>
<path d="M1239.7 530 V511 H1240.9 V496.3 Q1240.9 494.3 1242.9 494.3 H1252.1 Q1254.1 494.3 1254.1 496.3 V511 H1255.9 V530 Z" fill="#1d1d1b"/>
<rect x="1239.2" y="497" width="16.6" height="1.5" fill="#1d1d1b"/>
<rect x="1239.2" y="500" width="16.6" height="1.5" fill="#1d1d1b"/>
<rect x="1239.2" y="503" width="16.6" height="1.5" fill="#1d1d1b"/>
<rect x="1239.2" y="506" width="16.6" height="1.5" fill="#1d1d1b"/>
<rect x="1239.2" y="509" width="16.6" height="1.5" fill="#1d1d1b"/>
<rect x="1235.2" y="512.2" width="5" height="1.5" fill="#1d1d1b"/>
<rect x="1235.2" y="515.2" width="5" height="1.5" fill="#1d1d1b"/>
<rect x="1235.2" y="518.2" width="5" height="1.5" fill="#1d1d1b"/>
<rect x="1235.2" y="521.2" width="5" height="1.5" fill="#1d1d1b"/>
<rect x="1235.2" y="524.2" width="5" height="1.5" fill="#1d1d1b"/>
<rect x="1188.7" y="541.7" width="20" height="7" fill="#ffffff"/>
<rect x="1213.7" y="541.7" width="19" height="7" fill="#ffffff"/>
<rect x="1237.7" y="541.7" width="20" height="7" fill="#ffffff"/>
<rect x="1188.67" y="556.7" width="9" height="7.6" fill="#ffffff"/>
<rect x="1200.33" y="556.7" width="8.33" height="7.6" fill="#ffffff"/>
<rect x="1213.67" y="556.7" width="8.33" height="7.6" fill="#ffffff"/>
<rect x="1225.33" y="556.7" width="7.33" height="7.6" fill="#ffffff"/>
<rect x="1238.33" y="556.7" width="8.67" height="7.6" fill="#ffffff"/>
<rect x="1250" y="556.7" width="7.67" height="7.6" fill="#ffffff"/>
<rect x="1188.67" y="567.7" width="9" height="7.6" fill="#ffffff"/>
<rect x="1200.33" y="567.7" width="8.33" height="7.6" fill="#ffffff"/>
<rect x="1213.67" y="567.7" width="8.33" height="7.6" fill="#ffffff"/>
<rect x="1225.33" y="567.7" width="7.33" height="7.6" fill="#ffffff"/>
<rect x="1238.33" y="567.7" width="8.67" height="7.6" fill="#ffffff"/>
<rect x="1250" y="567.7" width="7.67" height="7.6" fill="#ffffff"/>
<rect x="1188.67" y="578.7" width="9" height="7.3" fill="#ffffff"/>
<rect x="1200.33" y="578.7" width="8.33" height="7.3" fill="#ffffff"/>
<rect x="1213.67" y="578.7" width="8.33" height="7.3" fill="#ffffff"/>
<rect x="1225.33" y="578.7" width="7.33" height="7.3" fill="#ffffff"/>
<rect x="1238.33" y="578.7" width="8.67" height="7.3" fill="#ffffff"/>
<rect x="1250" y="578.7" width="7.67" height="7.3" fill="#ffffff"/>
<polygon points="620,594.5 621.7,591.2 628,591.2 628,581.5 639,581.5 639,564.6 652.3,564.6 652.3,578.8 658.3,578.8 658.3,564.6 669,564.6 669,591.2 903.3,590.8 903.3,592.2 899,596.5 897.5,601 899.5,604.5 901.4,607.5 900.3,611 896.8,614 892,615.6 643,615.6 643,614 621.8,614 621.8,602.9 624,602.9 624,600 621,600" fill="#b0ada8"/>
<polygon points="1743.5,571.4 2102.8,571.4 2112,569.6 2132.2,566.5 2128,572 2125.3,578.2 2127,584 2133.1,591.9 2131.5,597.5 2127.3,601.7 2115.5,604.6 1776,604.6 1770.8,603.6 1765,601 1761,597.8 1762.5,592 1764,587 1753.2,587 1753.2,592 1749.3,592 1749.3,584 1743.5,584" fill="#b0ada8"/>
<polygon points="1777.7,572 1777.7,542 1781,541.2 1796.3,541.2 1797.5,533 1800,531.3 1808,531.3 1810,536 1810,541.5 1823.6,542 1823.6,547 1825.5,548 1825.5,554.8 1827.5,554.8 1827.5,572" fill="#b0ada8"/>
<path d="M1812.5 516.6 V543 M1821.3 524.4 V543 M1809.5 521.5 H1814 M1810 524.5 H1813.5" fill="none" stroke="#b0ada8" stroke-width="1"/>
<path d="M1725.9 550.4 H1777.7 M1741 550.4 V571.4 M1725.9 550.4 L1741 558 M1743.5 558.7 H1777.7" fill="none" stroke="#b0ada8" stroke-width="1.1"/>
<path d="M1757 558.7 L1765.3 550.4 M1757 550.4 L1765.3 558.7 M1765.3 558.7 L1773.6 550.4 M1765.3 550.4 L1773.6 558.7 M1773.6 558.7 L1777.7 554.6 M1773.6 550.4 L1777.7 554.5" fill="none" stroke="#b0ada8" stroke-width="0.9"/>
<rect x="1743.5" y="552" width="9" height="6" fill="none" stroke="#b0ada8" stroke-width="0.9"/>
<path d="M1743.5 566.5 H1777.7" fill="none" stroke="#b0ada8" stroke-width="1.6" stroke-dasharray="0.8 0.8"/>
<path d="M1770 571.4 L1777.7 562.5 M1769 563 H1777.7" fill="none" stroke="#b0ada8" stroke-width="1"/>
<path d="M1826 561.5 H2080 M1826 565.8 H2080 M1828 561.5 V571.6 M1828 561.5 L1836.4 571.4 M1836.4 561.5 V571.6 M1836.4 571.4 L1844.8 561.5 M1844.8 561.5 V571.6 M1844.8 561.5 L1853.2 571.4 M1853.2 561.5 V571.6 M1853.2 571.4 L1861.6 561.5 M1861.6 561.5 V571.6 M1861.6 561.5 L1870 571.4 M1870 561.5 V571.6 M1870 571.4 L1878.4 561.5 M1878.4 561.5 V571.6 M1878.4 561.5 L1886.8 571.4 M1886.8 561.5 V571.6 M1886.8 571.4 L1895.2 561.5 M1895.2 561.5 V571.6 M1895.2 561.5 L1903.6 571.4 M1903.6 561.5 V571.6 M1903.6 571.4 L1912 561.5 M1912 561.5 V571.6 M1912 561.5 L1920.4 571.4 M1920.4 561.5 V571.6 M1920.4 571.4 L1928.8 561.5 M1928.8 561.5 V571.6 M1928.8 561.5 L1937.2 571.4 M1937.2 561.5 V571.6 M1937.2 571.4 L1945.6 561.5 M1945.6 561.5 V571.6 M1945.6 561.5 L1954 571.4 M1954 561.5 V571.6 M1954 571.4 L1962.4 561.5 M1962.4 561.5 V571.6 M1962.4 561.5 L1970.8 571.4 M1970.8 561.5 V571.6 M1970.8 571.4 L1979.2 561.5 M1979.2 561.5 V571.6 M1979.2 561.5 L1987.6 571.4 M1987.6 561.5 V571.6 M1987.6 571.4 L1996 561.5 M1996 561.5 V571.6 M1996 561.5 L2004.4 571.4 M2004.4 561.5 V571.6 M2004.4 571.4 L2012.8 561.5 M2012.8 561.5 V571.6 M2012.8 561.5 L2021.2 571.4 M2021.2 561.5 V571.6 M2021.2 571.4 L2029.6 561.5 M2029.6 561.5 V571.6 M2029.6 561.5 L2038 571.4 M2038 561.5 V571.6 M2038 571.4 L2046.4 561.5 M2046.4 561.5 V571.6 M2046.4 561.5 L2054.8 571.4 M2054.8 561.5 V571.6 M2054.8 571.4 L2063.2 561.5 M2063.2 561.5 V571.6 M2063.2 561.5 L2071.6 571.4 M2071.6 561.5 V571.6 M2071.6 571.4 L2080 561.5" fill="none" stroke="#b0ada8" stroke-width="0.95"/>
<rect x="1900.9" y="548.9" width="5.8" height="23" fill="#b0ada8"/>
<path d="M1903 549.5 L1869.5 531.3 L1868.3 533.8 L1901.5 553.5 Z" fill="#b0ada8"/><path d="M1869.5 531.3 L1868 537.5" fill="none" stroke="#b0ada8" stroke-width="1"/>
<rect x="1924.9" y="548" width="6.8" height="24" fill="#b0ada8"/>
<path d="M1929 549.5 L1962.5 530 L1964 532.5 L1930.5 554 Z" fill="#b0ada8"/>
<path d="M1930.5 557 L1960 536" fill="none" stroke="#b0ada8" stroke-width="0.9"/>
<rect x="1945" y="523.9" width="5.3" height="30" fill="#b0ada8"/>
<rect x="1946.5" y="521.5" width="2.4" height="3" fill="#b0ada8"/>
<rect x="1956" y="533" width="4.5" height="16" fill="#b0ada8"/>
<rect x="1937" y="551" width="35" height="10.5" fill="#b0ada8" fill-opacity="0.28" stroke="#b0ada8" stroke-width="0.9"/><path d="M1940.2 551 V561.5 M1943.6 551 V561.5 M1947 551 V561.5 M1950.4 551 V561.5 M1953.8 551 V561.5 M1957.2 551 V561.5 M1960.6 551 V561.5 M1964 551 V561.5 M1967.4 551 V561.5 M1970.8 551 V561.5 M1937 553.8 H1972 M1937 556.7 H1972 M1937 559.6 H1972" fill="none" stroke="#b0ada8" stroke-width="0.75"/><rect x="1972" y="547" width="20" height="14.5" fill="#b0ada8" fill-opacity="0.28" stroke="#b0ada8" stroke-width="0.9"/><path d="M1975.2 547 V561.5 M1978.6 547 V561.5 M1982 547 V561.5 M1985.4 547 V561.5 M1988.8 547 V561.5 M1972 549.8 H1992 M1972 552.7 H1992 M1972 555.6 H1992 M1972 558.5 H1992" fill="none" stroke="#b0ada8" stroke-width="0.75"/><rect x="1978.5" y="543.5" width="8.5" height="3.5" fill="#b0ada8" fill-opacity="0.28" stroke="#b0ada8" stroke-width="0.9"/><path d="M1981.7 543.5 V547 M1985.1 543.5 V547" fill="none" stroke="#b0ada8" stroke-width="0.75"/><rect x="1992" y="549.5" width="23" height="12" fill="#b0ada8" fill-opacity="0.28" stroke="#b0ada8" stroke-width="0.9"/><path d="M1995.2 549.5 V561.5 M1998.6 549.5 V561.5 M2002 549.5 V561.5 M2005.4 549.5 V561.5 M2008.8 549.5 V561.5 M2012.2 549.5 V561.5 M1992 552.3 H2015 M1992 555.2 H2015 M1992 558.1 H2015" fill="none" stroke="#b0ada8" stroke-width="0.75"/><rect x="1995" y="545" width="21" height="4.5" fill="#b0ada8" fill-opacity="0.28" stroke="#b0ada8" stroke-width="0.9"/><path d="M1998.2 545 V549.5 M2001.6 545 V549.5 M2005 545 V549.5 M2008.4 545 V549.5 M2011.8 545 V549.5 M1995 547.8 H2016" fill="none" stroke="#b0ada8" stroke-width="0.75"/><rect x="2015" y="551" width="65" height="10.5" fill="#b0ada8" fill-opacity="0.28" stroke="#b0ada8" stroke-width="0.9"/><path d="M2018.2 551 V561.5 M2021.6 551 V561.5 M2025 551 V561.5 M2028.4 551 V561.5 M2031.8 551 V561.5 M2035.2 551 V561.5 M2038.6 551 V561.5 M2042 551 V561.5 M2045.4 551 V561.5 M2048.8 551 V561.5 M2052.2 551 V561.5 M2055.6 551 V561.5 M2059 551 V561.5 M2062.4 551 V561.5 M2065.8 551 V561.5 M2069.2 551 V561.5 M2072.6 551 V561.5 M2076 551 V561.5 M2015 553.8 H2080 M2015 556.7 H2080 M2015 559.6 H2080" fill="none" stroke="#b0ada8" stroke-width="0.75"/><rect x="2027" y="548.5" width="35" height="2.5" fill="#b0ada8" fill-opacity="0.28" stroke="#b0ada8" stroke-width="0.9"/><path d="M2030.2 548.5 V551 M2033.6 548.5 V551 M2037 548.5 V551 M2040.4 548.5 V551 M2043.8 548.5 V551 M2047.2 548.5 V551 M2050.6 548.5 V551 M2054 548.5 V551 M2057.4 548.5 V551 M2060.8 548.5 V551" fill="none" stroke="#b0ada8" stroke-width="0.75"/>
<polygon points="2080.3,572 2080.3,544 2078.5,544 2078.5,541 2097.5,541 2099,545 2099,555 2102,566 2102.8,572" fill="#b0ada8"/>
<rect x="2084" y="546.5" width="1.5" height="1.5" fill="#211a52"/>
<rect x="2088" y="546.5" width="1.5" height="1.5" fill="#211a52"/>
<rect x="2092" y="546.5" width="1.5" height="1.5" fill="#211a52"/>
<rect x="2084" y="551" width="1.5" height="1.5" fill="#211a52"/>
<rect x="2088" y="551" width="1.5" height="1.5" fill="#211a52"/>
<rect x="2092" y="551" width="1.5" height="1.5" fill="#211a52"/>
<rect x="2084" y="555.5" width="1.5" height="1.5" fill="#211a52"/>
<rect x="2088" y="555.5" width="1.5" height="1.5" fill="#211a52"/>
<rect x="2092" y="555.5" width="1.5" height="1.5" fill="#211a52"/>
<rect x="2084" y="560" width="1.5" height="1.5" fill="#211a52"/>
<rect x="2088" y="560" width="1.5" height="1.5" fill="#211a52"/>
<rect x="2092" y="560" width="1.5" height="1.5" fill="#211a52"/>
<rect x="2084" y="564.5" width="1.5" height="1.5" fill="#211a52"/>
<rect x="2088" y="564.5" width="1.5" height="1.5" fill="#211a52"/>
<rect x="2092" y="564.5" width="1.5" height="1.5" fill="#211a52"/>
<polygon points="2097,548 2128.5,513.2 2130.5,511.2 2134,512.6 2132.4,515 2104.5,556" fill="#b0ada8"/>
<polygon points="2101,548.4 2103.52,545.34 2104.1,551.8" fill="#211a52"/><polygon points="2104.32,544.54 2106.84,541.49 2107.22,547.71" fill="#211a52"/><polygon points="2107.64,540.69 2110.17,537.63 2110.34,543.62" fill="#211a52"/><polygon points="2110.97,536.83 2113.49,533.78 2113.47,539.53" fill="#211a52"/><polygon points="2114.29,532.98 2116.81,529.92 2116.59,535.44" fill="#211a52"/><polygon points="2117.61,529.12 2120.13,526.07 2119.71,531.36" fill="#211a52"/><polygon points="2120.93,525.27 2123.46,522.21 2122.83,527.27" fill="#211a52"/><polygon points="2124.26,521.41 2126.78,518.36 2125.96,523.18" fill="#211a52"/><polygon points="2127.58,517.56 2130.1,514.5 2129.08,519.09" fill="#211a52"/>
<polygon points="2084.3,604 2100.9,604 2100.9,607.5 2097,607.5 2097,609.5 2103,609.5 2106.7,615.4 2102.5,615.4 2099.5,611.6 2094,611.6 2094,615.4 2090,615.4 2090,611.6 2084.8,611.6 2081.5,615.4 2077.4,615.4 2081,609.5 2088,609.5 2088,607.5 2084.3,607.5" fill="#b0ada8"/>
<path d="M2402.4 489.5 L2399.4 559 M2410 489.5 L2413.2 559 M2402.4 489.5 H2410" fill="none" stroke="#b0ada8" stroke-width="1.9"/><path d="M2402.4 489.5 L2410.35 497 M2410 489.5 L2402.08 497 M2402.08 497 H2410.35 M2402.08 497 L2410.74 505.5 M2410.35 497 L2401.71 505.5 M2401.71 505.5 H2410.74 M2401.71 505.5 L2411.17 515 M2410.74 505.5 L2401.3 515 M2401.3 515 H2411.17 M2401.3 515 L2411.66 525.5 M2411.17 515 L2400.85 525.5 M2400.85 525.5 H2411.66 M2400.85 525.5 L2412.16 536.5 M2411.66 525.5 L2400.37 536.5 M2400.37 536.5 H2412.16 M2400.37 536.5 L2412.69 548 M2412.16 536.5 L2399.87 548 M2399.87 548 H2412.69 M2399.87 548 L2413.2 559 M2412.69 548 L2399.4 559 M2399.4 559 H2413.2" fill="none" stroke="#b0ada8" stroke-width="1.15"/><rect x="2401.6" y="488.6" width="9.2" height="3" fill="#b0ada8"/><path d="M2395.2 558.9 H2417.8 V564.4 L2426 566.5 L2435 570 L2452.8 574.5 L2455.5 576 V578 H2436.4 V582 H2421.5 Q2405.5 576.5 2390.8 582 H2377.2 V576 H2358 L2354.2 574.5 V572 L2377.2 570.9 L2386 566.5 L2395.2 564.4 Z" fill="#b0ada8"/><path d="M2358 573 V604 Q2358 606 2366 606 Q2374 606 2374 604 V573 Z" fill="#b0ada8"/><path d="M2377.2 573 V607.3 Q2377.2 609.3 2384 609.3 Q2390.8 609.3 2390.8 607.3 V573 Z" fill="#b0ada8"/><path d="M2421.5 573 V604.6 Q2421.5 606.6 2428.95 606.6 Q2436.4 606.6 2436.4 604.6 V573 Z" fill="#b0ada8"/><path d="M2438.6 573 V606.2 Q2438.6 608.2 2445.4 608.2 Q2452.2 608.2 2452.2 606.2 V573 Z" fill="#b0ada8"/><path d="M2366.3 562.2 V573 M2363 566 V573 M2370 567 V573 M2373 568.5 H2378 M2435.3 557.8 V572 M2432.5 563 V572 M2444 569 V576 M2449 571 V576" fill="none" stroke="#b0ada8" stroke-width="1.6"/>
<line x1="97.7" y1="304.5" x2="97.7" y2="343" stroke="#1d1d1b" stroke-width="1.1"/>
<line x1="59.3" y1="416.5" x2="59.3" y2="457" stroke="#1d1d1b" stroke-width="1.1"/>
<line x1="289.3" y1="483" x2="289.3" y2="528" stroke="#1d1d1b" stroke-width="1.1"/>
<line x1="446.7" y1="363" x2="446.7" y2="408" stroke="#1d1d1b" stroke-width="1.1"/>
<line x1="578" y1="327" x2="578" y2="372.5" stroke="#1d1d1b" stroke-width="1.1"/>
<line x1="779.3" y1="111" x2="779.3" y2="150.5" stroke="#1d1d1b" stroke-width="1.1"/>
<line x1="966.3" y1="330" x2="966.3" y2="356.7" stroke="#1d1d1b" stroke-width="1.1"/>
<line x1="1101.7" y1="207" x2="1101.7" y2="231" stroke="#1d1d1b" stroke-width="1.1"/>
<line x1="1156" y1="99.3" x2="1182.5" y2="99.3" stroke="#1d1d1b" stroke-width="1.1"/>
<line x1="957" y1="447.5" x2="991" y2="447.5" stroke="#1d1d1b" stroke-width="1.1"/>
<line x1="661.4" y1="517" x2="661.4" y2="563.4" stroke="#1d1d1b" stroke-width="1.1"/>
<line x1="1154" y1="565.3" x2="1180.5" y2="565.3" stroke="#1d1d1b" stroke-width="1.1"/>
<line x1="1351.7" y1="539.3" x2="1351.7" y2="571.5" stroke="#1d1d1b" stroke-width="1.1"/>
<line x1="1390" y1="247.5" x2="1390" y2="269.5" stroke="#1d1d1b" stroke-width="1.1"/>
<line x1="1468" y1="43.3" x2="1502.5" y2="43.3" stroke="#1d1d1b" stroke-width="1.1"/>
<line x1="1688" y1="184" x2="1726.5" y2="184" stroke="#1d1d1b" stroke-width="1.1"/>
<line x1="1537" y1="318.5" x2="1537" y2="349.6" stroke="#1d1d1b" stroke-width="1.1"/>
<line x1="1782.7" y1="297.5" x2="1782.7" y2="330" stroke="#1d1d1b" stroke-width="1.1"/>
<line x1="1974.3" y1="338" x2="1974.3" y2="361.7" stroke="#1d1d1b" stroke-width="1.1"/>
<line x1="1938.3" y1="395" x2="1938.3" y2="441.7" stroke="#1d1d1b" stroke-width="1.1"/>
<line x1="2107" y1="65.3" x2="2107" y2="90" stroke="#1d1d1b" stroke-width="1.1"/>
<line x1="2136.3" y1="131.7" x2="2136.3" y2="171" stroke="#1d1d1b" stroke-width="1.1"/>
<line x1="2357" y1="281.8" x2="2398" y2="281.8" stroke="#1d1d1b" stroke-width="1.1"/>
<line x1="2406" y1="446.5" x2="2406" y2="489.5" stroke="#1d1d1b" stroke-width="1.1"/>
<line x1="2231" y1="467" x2="2231" y2="509.3" stroke="#e8e8e8" stroke-width="1.2"/>
<line x1="1717" y1="580" x2="1742.5" y2="580" stroke="#c9c8c6" stroke-width="1.2"/>
<line x1="1982.5" y1="526" x2="1982.5" y2="546" stroke="#e8e8e8" stroke-width="1.2"/>
<line x1="2108.7" y1="553.3" x2="2147.5" y2="553.3" stroke="#e8e8e8" stroke-width="1.2"/>
<use href="#hi" x="86.45" y="277.1"/>
<use href="#hi" x="48.05" y="389.1"/>
<use href="#hi" x="278.05" y="455.4"/>
<use href="#hi" x="435.45" y="335.8"/>
<use href="#hi" x="566.75" y="299.4"/>
<use href="#hi" x="767.75" y="83.8"/>
<use href="#hi" x="955.05" y="302.1"/>
<use href="#hi" x="1090.45" y="179.4"/>
<use href="#hi" x="1182.05" y="86.1"/>
<use href="#hi" x="990.55" y="434.1"/>
<use href="#hi" x="650.15" y="489.6"/>
<use href="#hi" x="1131.45" y="549.4"/>
<use href="#hi" x="1340.45" y="571.1"/>
<use href="#hi" x="1378.75" y="220.1"/>
<use href="#hi" x="1501.95" y="29.4"/>
<use href="#hi" x="1726.45" y="170.4"/>
<use href="#hi" x="1525.75" y="291.1"/>
<use href="#hi" x="1771.45" y="270.1"/>
<use href="#hi" x="1963.05" y="310.4"/>
<use href="#hi" x="1927.05" y="367.8"/>
<use href="#hi" x="2095.75" y="37.8"/>
<use href="#hi" x="2125.05" y="170.4"/>
<use href="#hi" x="2333.75" y="267.9"/>
<use href="#hi" x="2394.75" y="419.1"/>
<use href="#hi" x="2219.75" y="439.4"/>
<use href="#hi" x="1693.75" y="565.4"/>
<use href="#hi" x="1971.25" y="498.6"/>
<use href="#hi" x="2147.45" y="539.4"/>
<text x="96.7" y="235" textLength="139.82" lengthAdjust="spacingAndGlyphs" text-anchor="middle" fill="#2d2c2b" stroke="#2d2c2b" stroke-width="0.3" font-size="15">Sistemas de medição</text>
<text x="96.7" y="251.5" textLength="108.94" lengthAdjust="spacingAndGlyphs" text-anchor="middle" fill="#2d2c2b" stroke="#2d2c2b" stroke-width="0.3" font-size="15">de vazão fiscal e</text>
<text x="96.7" y="268" textLength="75.62" lengthAdjust="spacingAndGlyphs" text-anchor="middle" fill="#2d2c2b" stroke="#2d2c2b" stroke-width="0.3" font-size="15">operacional</text>
<text x="124.3" y="393.5" textLength="94.31" lengthAdjust="spacingAndGlyphs" text-anchor="middle" fill="#2d2c2b" stroke="#2d2c2b" stroke-width="0.3" font-size="15">Automação de</text>
<text x="124.3" y="410.1" textLength="79.66" lengthAdjust="spacingAndGlyphs" text-anchor="middle" fill="#2d2c2b" stroke="#2d2c2b" stroke-width="0.3" font-size="15">terminais de</text>
<text x="124.3" y="426.7" textLength="90.24" lengthAdjust="spacingAndGlyphs" text-anchor="middle" fill="#2d2c2b" stroke="#2d2c2b" stroke-width="0.3" font-size="15">carregamento</text>
<text x="288.7" y="414.5" textLength="139.82" lengthAdjust="spacingAndGlyphs" text-anchor="middle" fill="#2d2c2b" stroke="#2d2c2b" stroke-width="0.3" font-size="15">Sistemas de medição</text>
<text x="288.7" y="431" textLength="108.94" lengthAdjust="spacingAndGlyphs" text-anchor="middle" fill="#2d2c2b" stroke="#2d2c2b" stroke-width="0.3" font-size="15">de vazão fiscal e</text>
<text x="288.7" y="447.5" textLength="75.62" lengthAdjust="spacingAndGlyphs" text-anchor="middle" fill="#2d2c2b" stroke="#2d2c2b" stroke-width="0.3" font-size="15">operacional</text>
<text x="446.7" y="261.8" textLength="112.19" lengthAdjust="spacingAndGlyphs" text-anchor="middle" fill="#2d2c2b" stroke="#2d2c2b" stroke-width="0.3" font-size="15">Atuadores eletro-</text>
<text x="446.7" y="278.45" textLength="103.25" lengthAdjust="spacingAndGlyphs" text-anchor="middle" fill="#2d2c2b" stroke="#2d2c2b" stroke-width="0.3" font-size="15">hidráulicos para</text>
<text x="446.7" y="295.1" textLength="73.17" lengthAdjust="spacingAndGlyphs" text-anchor="middle" fill="#2d2c2b" stroke="#2d2c2b" stroke-width="0.3" font-size="15">válvulas de</text>
<text x="446.7" y="311.75" textLength="100.8" lengthAdjust="spacingAndGlyphs" text-anchor="middle" fill="#2d2c2b" stroke="#2d2c2b" stroke-width="0.3" font-size="15">fechamento em</text>
<text x="446.7" y="328.4" textLength="76.42" lengthAdjust="spacingAndGlyphs" text-anchor="middle" fill="#2d2c2b" stroke="#2d2c2b" stroke-width="0.3" font-size="15">emergência</text>
<text x="578" y="262.2" textLength="73.16" lengthAdjust="spacingAndGlyphs" text-anchor="middle" fill="#2d2c2b" stroke="#2d2c2b" stroke-width="0.3" font-size="15">Sistema de</text>
<text x="578" y="278.6" textLength="79.69" lengthAdjust="spacingAndGlyphs" text-anchor="middle" fill="#2d2c2b" stroke="#2d2c2b" stroke-width="0.3" font-size="15">detecção de</text>
<text x="578" y="295" textLength="34.93" lengthAdjust="spacingAndGlyphs" text-anchor="middle" fill="#2d2c2b" stroke="#2d2c2b" stroke-width="0.3" font-size="15">“PIG”</text>
<text x="670.7" y="93.8" textLength="160.15" lengthAdjust="spacingAndGlyphs" text-anchor="middle" fill="#2d2c2b" stroke="#2d2c2b" stroke-width="0.3" font-size="15">Sistemas de medição de</text>
<text x="670.7" y="110.5" textLength="168.29" lengthAdjust="spacingAndGlyphs" text-anchor="middle" fill="#2d2c2b" stroke="#2d2c2b" stroke-width="0.3" font-size="15">vazão fiscal e operacional</text>
<text x="907.3" y="296.2" textLength="73.16" lengthAdjust="spacingAndGlyphs" text-anchor="middle" fill="#2d2c2b" stroke="#2d2c2b" stroke-width="0.3" font-size="15">Sistema de</text>
<text x="907.3" y="312.85" textLength="83.74" lengthAdjust="spacingAndGlyphs" text-anchor="middle" fill="#2d2c2b" stroke="#2d2c2b" stroke-width="0.3" font-size="15">telecomando</text>
<text x="907.3" y="329.5" textLength="73.17" lengthAdjust="spacingAndGlyphs" text-anchor="middle" fill="#2d2c2b" stroke="#2d2c2b" stroke-width="0.3" font-size="15">de válvulas</text>
<text x="907.3" y="346.15" textLength="79.66" lengthAdjust="spacingAndGlyphs" text-anchor="middle" fill="#2d2c2b" stroke="#2d2c2b" stroke-width="0.3" font-size="15">motorizadas</text>
<text x="1096.7" y="155.5" textLength="141.44" lengthAdjust="spacingAndGlyphs" text-anchor="middle" fill="#2d2c2b" stroke="#2d2c2b" stroke-width="0.3" font-size="15">Sistema de telemetria</text>
<text x="1096.7" y="172.2" textLength="72.38" lengthAdjust="spacingAndGlyphs" text-anchor="middle" fill="#2d2c2b" stroke="#2d2c2b" stroke-width="0.3" font-size="15">de tanques</text>
<text x="1263.3" y="61.5" textLength="121.15" lengthAdjust="spacingAndGlyphs" text-anchor="middle" fill="#2d2c2b" stroke="#2d2c2b" stroke-width="0.3" font-size="15">Engenharia básica</text>
<text x="1263.3" y="78.3" textLength="105.7" lengthAdjust="spacingAndGlyphs" text-anchor="middle" fill="#2d2c2b" stroke="#2d2c2b" stroke-width="0.3" font-size="15">para projetos de</text>
<text x="1263.3" y="95.1" textLength="91.87" lengthAdjust="spacingAndGlyphs" text-anchor="middle" fill="#2d2c2b" stroke="#2d2c2b" stroke-width="0.3" font-size="15">componentes,</text>
<text x="1263.3" y="111.9" textLength="104.08" lengthAdjust="spacingAndGlyphs" text-anchor="middle" fill="#2d2c2b" stroke="#2d2c2b" stroke-width="0.3" font-size="15">equipamentos e</text>
<text x="1263.3" y="128.7" textLength="91.04" lengthAdjust="spacingAndGlyphs" text-anchor="middle" fill="#2d2c2b" stroke="#2d2c2b" stroke-width="0.3" font-size="15">sistemas para</text>
<text x="1263.3" y="145.5" textLength="107.31" lengthAdjust="spacingAndGlyphs" text-anchor="middle" fill="#2d2c2b" stroke="#2d2c2b" stroke-width="0.3" font-size="15">indústria nuclear</text>
<text x="1094" y="428.1" textLength="66.67" lengthAdjust="spacingAndGlyphs" text-anchor="middle" fill="#2d2c2b" stroke="#2d2c2b" stroke-width="0.3" font-size="15">Atuadores</text>
<text x="1094" y="444.6" textLength="144.7" lengthAdjust="spacingAndGlyphs" text-anchor="middle" fill="#2d2c2b" stroke="#2d2c2b" stroke-width="0.3" font-size="15">eletro-hidráulicos para</text>
<text x="1094" y="461.1" textLength="144.72" lengthAdjust="spacingAndGlyphs" text-anchor="middle" fill="#2d2c2b" stroke="#2d2c2b" stroke-width="0.3" font-size="15">válvulas de contenção</text>
<text x="1094" y="477.6" textLength="83.74" lengthAdjust="spacingAndGlyphs" text-anchor="middle" fill="#2d2c2b" stroke="#2d2c2b" stroke-width="0.3" font-size="15">de inventário</text>
<text x="761" y="499.5" textLength="160.15" lengthAdjust="spacingAndGlyphs" text-anchor="middle" fill="#2d2c2b" stroke="#2d2c2b" stroke-width="0.3" font-size="15">Sistemas de medição de</text>
<text x="761" y="516.1" textLength="168.29" lengthAdjust="spacingAndGlyphs" text-anchor="middle" fill="#2d2c2b" stroke="#2d2c2b" stroke-width="0.3" font-size="15">vazão fiscal e operacional</text>
<text x="1061.5" y="525.8" textLength="80.47" lengthAdjust="spacingAndGlyphs" text-anchor="middle" fill="#2d2c2b" stroke="#2d2c2b" stroke-width="0.3" font-size="15">Sistemas de</text>
<text x="1061.5" y="542.55" textLength="85.37" lengthAdjust="spacingAndGlyphs" text-anchor="middle" fill="#2d2c2b" stroke="#2d2c2b" stroke-width="0.3" font-size="15">controle para</text>
<text x="1061.5" y="559.3" textLength="117.89" lengthAdjust="spacingAndGlyphs" text-anchor="middle" fill="#2d2c2b" stroke="#2d2c2b" stroke-width="0.3" font-size="15">válvulas borboleta</text>
<text x="1061.5" y="576.05" textLength="125.21" lengthAdjust="spacingAndGlyphs" text-anchor="middle" fill="#2d2c2b" stroke="#2d2c2b" stroke-width="0.3" font-size="15">de turbinas a vapor</text>
<text x="1061.5" y="592.8" textLength="89.44" lengthAdjust="spacingAndGlyphs" text-anchor="middle" fill="#2d2c2b" stroke="#2d2c2b" stroke-width="0.3" font-size="15">e reguladores</text>
<text x="1061.5" y="609.55" textLength="70.73" lengthAdjust="spacingAndGlyphs" text-anchor="middle" fill="#2d2c2b" stroke="#2d2c2b" stroke-width="0.3" font-size="15">eletrônicos</text>
<text x="1416" y="561.5" textLength="80.47" lengthAdjust="spacingAndGlyphs" text-anchor="middle" fill="#2d2c2b" stroke="#2d2c2b" stroke-width="0.3" font-size="15">Sistemas de</text>
<text x="1416" y="578.2" textLength="75.61" lengthAdjust="spacingAndGlyphs" text-anchor="middle" fill="#2d2c2b" stroke="#2d2c2b" stroke-width="0.3" font-size="15">medição de</text>
<text x="1416" y="594.9" textLength="88.61" lengthAdjust="spacingAndGlyphs" text-anchor="middle" fill="#2d2c2b" stroke="#2d2c2b" stroke-width="0.3" font-size="15">vazão fiscal e</text>
<text x="1416" y="611.6" textLength="75.62" lengthAdjust="spacingAndGlyphs" text-anchor="middle" fill="#2d2c2b" stroke="#2d2c2b" stroke-width="0.3" font-size="15">operacional</text>
<text x="1390" y="180.5" textLength="73.16" lengthAdjust="spacingAndGlyphs" text-anchor="middle" fill="#2d2c2b" stroke="#2d2c2b" stroke-width="0.3" font-size="15">Sistema de</text>
<text x="1390" y="197.15" textLength="96.76" lengthAdjust="spacingAndGlyphs" text-anchor="middle" fill="#2d2c2b" stroke="#2d2c2b" stroke-width="0.3" font-size="15">fechamento de</text>
<text x="1390" y="213.8" textLength="136.59" lengthAdjust="spacingAndGlyphs" text-anchor="middle" fill="#2d2c2b" stroke="#2d2c2b" stroke-width="0.3" font-size="15">emergência de dutos</text>
<text x="1567" y="36.5" textLength="80.47" lengthAdjust="spacingAndGlyphs" text-anchor="middle" fill="#2d2c2b" stroke="#2d2c2b" stroke-width="0.3" font-size="15">Sistemas de</text>
<text x="1567" y="53.15" textLength="72.36" lengthAdjust="spacingAndGlyphs" text-anchor="middle" fill="#2d2c2b" stroke="#2d2c2b" stroke-width="0.3" font-size="15">controle de</text>
<text x="1567" y="69.8" textLength="60.16" lengthAdjust="spacingAndGlyphs" text-anchor="middle" fill="#2d2c2b" stroke="#2d2c2b" stroke-width="0.3" font-size="15">dosagem</text>
<text x="1796.3" y="162.8" textLength="80.47" lengthAdjust="spacingAndGlyphs" text-anchor="middle" fill="#2d2c2b" stroke="#2d2c2b" stroke-width="0.3" font-size="15">Sistemas de</text>
<text x="1796.3" y="179.6" textLength="75.61" lengthAdjust="spacingAndGlyphs" text-anchor="middle" fill="#2d2c2b" stroke="#2d2c2b" stroke-width="0.3" font-size="15">medição de</text>
<text x="1796.3" y="196.4" textLength="88.61" lengthAdjust="spacingAndGlyphs" text-anchor="middle" fill="#2d2c2b" stroke="#2d2c2b" stroke-width="0.3" font-size="15">vazão fiscal e</text>
<text x="1796.3" y="213.2" textLength="75.62" lengthAdjust="spacingAndGlyphs" text-anchor="middle" fill="#2d2c2b" stroke="#2d2c2b" stroke-width="0.3" font-size="15">operacional</text>
<text x="1536.5" y="267" textLength="141.44" lengthAdjust="spacingAndGlyphs" text-anchor="middle" fill="#2d2c2b" stroke="#2d2c2b" stroke-width="0.3" font-size="15">Sistema de telemetria</text>
<text x="1536.5" y="284" textLength="72.38" lengthAdjust="spacingAndGlyphs" text-anchor="middle" fill="#2d2c2b" stroke="#2d2c2b" stroke-width="0.3" font-size="15">de tanques</text>
<text x="1782.7" y="249.5" textLength="150.64" lengthAdjust="spacingAndGlyphs" text-anchor="middle" fill="#2d2c2b" stroke="#2d2c2b" stroke-width="0.3" font-size="15">Transmissores de nível</text>
<text x="1782.7" y="266.2" textLength="61.79" lengthAdjust="spacingAndGlyphs" text-anchor="middle" fill="#2d2c2b" stroke="#2d2c2b" stroke-width="0.3" font-size="15">tipo radar</text>
<text x="2047" y="39.5" textLength="80.47" lengthAdjust="spacingAndGlyphs" text-anchor="middle" fill="#2d2c2b" stroke="#2d2c2b" stroke-width="0.3" font-size="15">Sistemas de</text>
<text x="2047" y="56.15" textLength="72.36" lengthAdjust="spacingAndGlyphs" text-anchor="middle" fill="#2d2c2b" stroke="#2d2c2b" stroke-width="0.3" font-size="15">controle de</text>
<text x="2047" y="72.8" textLength="60.16" lengthAdjust="spacingAndGlyphs" text-anchor="middle" fill="#2d2c2b" stroke="#2d2c2b" stroke-width="0.3" font-size="15">dosagem</text>
<text x="2216" y="164.8" textLength="80.5" lengthAdjust="spacingAndGlyphs" text-anchor="middle" fill="#2d2c2b" stroke="#2d2c2b" stroke-width="0.3" font-size="15">Soluções de</text>
<text x="2216" y="181.5" textLength="112.19" lengthAdjust="spacingAndGlyphs" text-anchor="middle" fill="#2d2c2b" stroke="#2d2c2b" stroke-width="0.3" font-size="15">telemetria de gás</text>
<text x="2216" y="198.2" textLength="111.37" lengthAdjust="spacingAndGlyphs" text-anchor="middle" fill="#2d2c2b" stroke="#2d2c2b" stroke-width="0.3" font-size="15">e transmissão de</text>
<text x="2216" y="214.9" textLength="39.85" lengthAdjust="spacingAndGlyphs" text-anchor="middle" fill="#2d2c2b" stroke="#2d2c2b" stroke-width="0.3" font-size="15">dados</text>
<text x="2270.7" y="270.1" textLength="75.61" lengthAdjust="spacingAndGlyphs" text-anchor="middle" fill="#2d2c2b" stroke="#2d2c2b" stroke-width="0.3" font-size="15">Medição de</text>
<text x="2270.7" y="287" textLength="117.06" lengthAdjust="spacingAndGlyphs" text-anchor="middle" fill="#2d2c2b" stroke="#2d2c2b" stroke-width="0.3" font-size="15">volumes de pilhas</text>
<text x="2270.7" y="303.9" textLength="68.28" lengthAdjust="spacingAndGlyphs" text-anchor="middle" fill="#2d2c2b" stroke="#2d2c2b" stroke-width="0.3" font-size="15">de minério</text>
<text x="2406" y="378.8" textLength="68.28" lengthAdjust="spacingAndGlyphs" text-anchor="middle" fill="#2d2c2b" stroke="#2d2c2b" stroke-width="0.3" font-size="15">Medidores</text>
<text x="2406" y="395.5" textLength="76.4" lengthAdjust="spacingAndGlyphs" text-anchor="middle" fill="#2d2c2b" stroke="#2d2c2b" stroke-width="0.3" font-size="15">multifásicos</text>
<text x="2406" y="412.2" textLength="104.87" lengthAdjust="spacingAndGlyphs" text-anchor="middle" fill="#2d2c2b" stroke="#2d2c2b" stroke-width="0.3" font-size="15">(teste de poços)</text>
<text x="2290.3" y="440.5" textLength="88.61" lengthAdjust="spacingAndGlyphs" text-anchor="middle" fill="#2d2c2b" stroke="#2d2c2b" stroke-width="0.3" font-size="15">Medidores de</text>
<text x="2290.3" y="457.5" textLength="72.36" lengthAdjust="spacingAndGlyphs" text-anchor="middle" fill="#2d2c2b" stroke="#2d2c2b" stroke-width="0.3" font-size="15">vazão para</text>
<text x="2290.3" y="474.5" textLength="82.94" lengthAdjust="spacingAndGlyphs" text-anchor="middle" fill="#2d2c2b" stroke="#2d2c2b" stroke-width="0.3" font-size="15">gás e líquido</text>
<text x="1631" y="561.1" textLength="78.82" lengthAdjust="spacingAndGlyphs" text-anchor="middle" fill="#ecebea" stroke="#ecebea" stroke-width="0.12" font-size="15">Sistemas de</text>
<text x="1631" y="578" textLength="74.06" lengthAdjust="spacingAndGlyphs" text-anchor="middle" fill="#ecebea" stroke="#ecebea" stroke-width="0.12" font-size="15">medição de</text>
<text x="1631" y="594.9" textLength="86.79" lengthAdjust="spacingAndGlyphs" text-anchor="middle" fill="#ecebea" stroke="#ecebea" stroke-width="0.12" font-size="15">vazão fiscal e</text>
<text x="1631" y="611.8" textLength="74.07" lengthAdjust="spacingAndGlyphs" text-anchor="middle" fill="#ecebea" stroke="#ecebea" stroke-width="0.12" font-size="15">operacional</text>
<text x="2049.4" y="500.3" textLength="102.73" lengthAdjust="spacingAndGlyphs" text-anchor="middle" fill="#ecebea" stroke="#ecebea" stroke-width="0.12" font-size="15">Analisadores de</text>
<text x="2049.4" y="516.9" textLength="86.81" lengthAdjust="spacingAndGlyphs" text-anchor="middle" fill="#ecebea" stroke="#ecebea" stroke-width="0.12" font-size="15">água em óleo</text>
<text x="2049.4" y="533.5" textLength="37.5" lengthAdjust="spacingAndGlyphs" text-anchor="middle" fill="#ecebea" stroke="#ecebea" stroke-width="0.12" font-size="15">(BSW)</text>
<text x="2220.3" y="541.8" textLength="86.8" lengthAdjust="spacingAndGlyphs" text-anchor="middle" fill="#ecebea" stroke="#ecebea" stroke-width="0.12" font-size="15">Medidores de</text>
<text x="2220.3" y="558.5" textLength="70.88" lengthAdjust="spacingAndGlyphs" text-anchor="middle" fill="#ecebea" stroke="#ecebea" stroke-width="0.12" font-size="15">vazão para</text>
<text x="2220.3" y="575.2" textLength="74.86" lengthAdjust="spacingAndGlyphs" text-anchor="middle" fill="#ecebea" stroke="#ecebea" stroke-width="0.12" font-size="15">gás de flare</text>
</svg>
</body></html>
